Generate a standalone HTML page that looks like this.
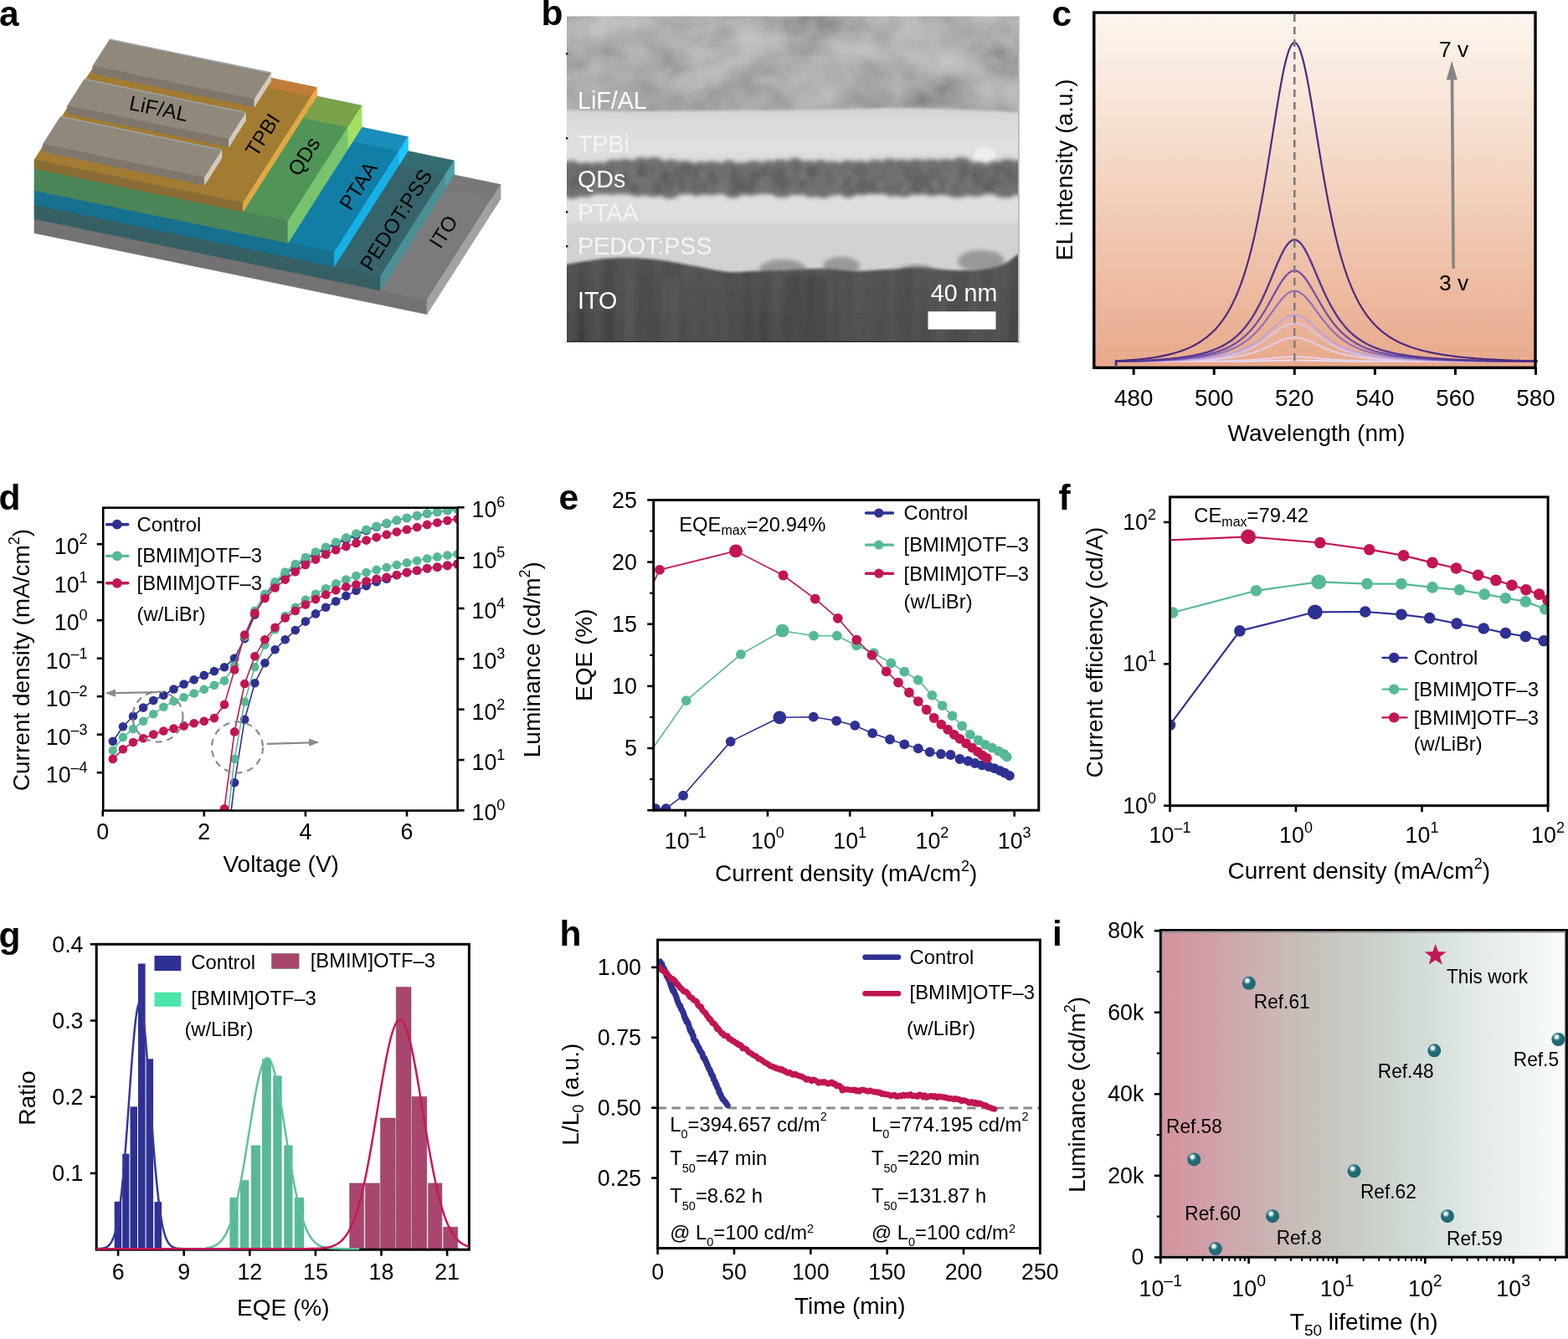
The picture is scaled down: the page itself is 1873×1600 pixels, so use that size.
<!DOCTYPE html>
<html><head><meta charset="utf-8"><title>Figure</title>
<style>
html,body{margin:0;padding:0;background:#fff;}
svg{display:block;}
svg text{font-family:"Liberation Sans", Arial, Helvetica, sans-serif;}
</style></head>
<body>
<svg width="1873" height="1600" viewBox="0 0 1873 1600">
<rect width="1873" height="1600" fill="#fff"/>
<g id="pa">
<polygon points="41,261.4 510,358.58 598,220.58 129,123.4" fill="#7b7b7b" stroke="#7b7b7b" stroke-width="0.7"/>
<polygon points="41,278.4 510,375.58 510,358.58 41,261.4" fill="#727272" stroke="#727272" stroke-width="0.7"/>
<polygon points="510,375.58 598,237.58 598,220.58 510,358.58" fill="#a2a2a2" stroke="#a2a2a2" stroke-width="0.7"/>
<polygon points="118.16,140.4 587.16,237.58 598,220.58 129,123.4" fill="#787878"/>
<polygon points="587.16,254.58 598,237.58 598,220.58 587.16,237.58" fill="#9c9c9c"/>
<polygon points="41,244.4 454.4,330.06 542.4,192.06 129,106.4" fill="#36646a" stroke="#36646a" stroke-width="0.7"/>
<polygon points="41,261.4 454.4,347.06 454.4,330.06 41,244.4" fill="#365f63" stroke="#365f63" stroke-width="0.7"/>
<polygon points="454.4,347.06 542.4,209.06 542.4,192.06 454.4,330.06" fill="#4a8e96" stroke="#4a8e96" stroke-width="0.7"/>
<polygon points="118.16,123.4 531.56,209.06 542.4,192.06 129,106.4" fill="#336d72"/>
<polygon points="531.56,226.06 542.4,209.06 542.4,192.06 531.56,209.06" fill="#50a0a8"/>
<polygon points="41,227.4 399.2,301.62 487.2,163.62 129,89.4" fill="#127ea5" stroke="#127ea5" stroke-width="0.7"/>
<polygon points="41,244.4 399.2,318.62 399.2,301.62 41,227.4" fill="#18708f" stroke="#18708f" stroke-width="0.7"/>
<polygon points="399.2,318.62 487.2,180.62 487.2,163.62 399.2,301.62" fill="#16b0e6" stroke="#16b0e6" stroke-width="0.7"/>
<polygon points="118.16,106.4 476.36,180.62 487.2,163.62 129,89.4" fill="#1a8ebb"/>
<polygon points="476.36,197.62 487.2,180.62 487.2,163.62 476.36,180.62" fill="#22c6ff"/>
<polygon points="41,201.4 344,264.18 432,126.18 129,63.4" fill="#509458" stroke="#509458" stroke-width="0.7"/>
<polygon points="41,227.4 344,290.18 344,264.18 41,201.4" fill="#4b8658" stroke="#4b8658" stroke-width="0.7"/>
<polygon points="344,290.18 432,152.18 432,126.18 344,264.18" fill="#78c46e" stroke="#78c46e" stroke-width="0.7"/>
<polygon points="112.42,89.4 415.42,152.18 432,126.18 129,63.4" fill="#7aa24a"/>
<polygon points="415.42,178.18 432,152.18 432,126.18 415.42,152.18" fill="#a6e062"/>
<polygon points="41,190.9 290.3,242.55 378.3,104.55 129,52.9" fill="#a27c33" stroke="#a27c33" stroke-width="0.7"/>
<polygon points="41,201.4 290.3,253.05 290.3,242.55 41,190.9" fill="#8a6d35" stroke="#8a6d35" stroke-width="0.7"/>
<polygon points="290.3,253.05 378.3,115.05 378.3,104.55 290.3,242.55" fill="#e0a845" stroke="#e0a845" stroke-width="0.7"/>
<polygon points="122.3,63.4 371.6,115.05 378.3,104.55 129,52.9" fill="#c27c3a"/>
<polygon points="371.6,125.55 378.3,115.05 378.3,104.55 371.6,115.05" fill="#f5a64a"/>
<polygon points="110.87,78.83 303.87,118.82 323.76,87.63 130.76,47.64" fill="#8f887b" stroke="#8f887b" stroke-width="0.7"/>
<polygon points="110.87,87.83 303.87,127.82 303.87,118.82 110.87,78.83" fill="#7f776b" stroke="#7f776b" stroke-width="0.7"/>
<polygon points="303.87,127.82 323.76,96.63 323.76,87.63 303.87,118.82" fill="#d2cbbd" stroke="#d2cbbd" stroke-width="0.7"/>
<line x1="130.76" y1="47.04" x2="323.76" y2="87.03" stroke="#9da1a6" stroke-width="1.6"/>
<polygon points="80.51,126.44 273.51,166.43 293.49,135.1 100.49,95.11" fill="#8f887b" stroke="#8f887b" stroke-width="0.7"/>
<polygon points="80.51,135.44 273.51,175.43 273.51,166.43 80.51,126.44" fill="#7f776b" stroke="#7f776b" stroke-width="0.7"/>
<polygon points="273.51,175.43 293.49,144.1 293.49,135.1 273.51,166.43" fill="#d2cbbd" stroke="#d2cbbd" stroke-width="0.7"/>
<line x1="100.49" y1="94.51" x2="293.49" y2="134.5" stroke="#9da1a6" stroke-width="1.6"/>
<polygon points="51.3,172.25 244.3,212.24 264.98,179.81 71.98,139.82" fill="#8f887b" stroke="#8f887b" stroke-width="0.7"/>
<polygon points="51.3,181.25 244.3,221.24 244.3,212.24 51.3,172.25" fill="#7f776b" stroke="#7f776b" stroke-width="0.7"/>
<polygon points="244.3,221.24 264.98,188.81 264.98,179.81 244.3,212.24" fill="#d2cbbd" stroke="#d2cbbd" stroke-width="0.7"/>
<line x1="71.98" y1="139.22" x2="264.98" y2="179.21" stroke="#9da1a6" stroke-width="1.6"/>
<text x="188" y="138" font-size="24.5" text-anchor="middle" transform="rotate(11.7 188 138)">LiF/AL</text>
<text x="0" y="8.82" font-size="24.5" text-anchor="middle" transform="translate(313.4 161) rotate(-57.5)">TPBI</text>
<text x="0" y="8.82" font-size="24.5" text-anchor="middle" transform="translate(362.8 186.6) rotate(-57.5)">QDs</text>
<text x="0" y="8.82" font-size="24.5" text-anchor="middle" transform="translate(427.7 221.8) rotate(-57.5)">PTAA</text>
<text x="0" y="8.82" font-size="24.5" text-anchor="middle" transform="translate(472.8 262.5) rotate(-57.5)">PEDOT:PSS</text>
<text x="0" y="8.82" font-size="24.5" text-anchor="middle" transform="translate(529.4 276.7) rotate(-57.5)">ITO</text>
</g>
<g id="pb">
<defs>
<clipPath id="bclip"><rect x="677" y="19.5" width="539" height="389.5"/></clipPath>
<linearGradient id="blif" x1="0" y1="0" x2="0" y2="1">
<stop offset="0" stop-color="#acacac"/><stop offset="0.45" stop-color="#aaaaaa"/><stop offset="0.8" stop-color="#9e9e9e"/><stop offset="1" stop-color="#949494"/></linearGradient>
<linearGradient id="btpbi" x1="0" y1="0" x2="0" y2="1">
<stop offset="0" stop-color="#d3d3d3"/><stop offset="0.3" stop-color="#dcdcdc"/><stop offset="0.7" stop-color="#e0e0e0"/><stop offset="1" stop-color="#d6d6d6"/></linearGradient>
<linearGradient id="bito" x1="0" y1="0" x2="0" y2="1">
<stop offset="0" stop-color="#4a4a4a"/><stop offset="0.5" stop-color="#444444"/><stop offset="1" stop-color="#414141"/></linearGradient>
<filter id="bnoise" x="0" y="0" width="1" height="1" filterUnits="objectBoundingBox">
<feTurbulence type="fractalNoise" baseFrequency="0.016 0.022" numOctaves="3" seed="11"/>
<feColorMatrix type="matrix" values="1.6 0 0 0 -0.25  1.6 0 0 0 -0.25  1.6 0 0 0 -0.25  0 0 0 0 0.3"/>
<feGaussianBlur stdDeviation="1.6"/>
</filter>
<filter id="bstreak" x="0" y="0" width="1" height="1" filterUnits="objectBoundingBox">
<feTurbulence type="fractalNoise" baseFrequency="0.05 0.004" numOctaves="2" seed="4"/>
<feColorMatrix type="matrix" values="1.2 0 0 0 -0.15  1.2 0 0 0 -0.15  1.2 0 0 0 -0.15  0 0 0 0 0.1"/>
<feGaussianBlur stdDeviation="1"/>
</filter>
<filter id="bblur"><feGaussianBlur stdDeviation="1.6"/></filter>
<filter id="bblur2"><feGaussianBlur stdDeviation="2.5"/></filter>
</defs>
<g clip-path="url(#bclip)">
<rect x="667" y="14.5" width="559" height="125" fill="url(#blif)"/>
<ellipse cx="851.55" cy="36.17" rx="26.27" ry="9.23" fill="#a8a8a8" opacity="0.18" filter="url(#bblur2)"/>
<ellipse cx="727.74" cy="83.9" rx="32.74" ry="11.65" fill="#b0b0b0" opacity="0.18" filter="url(#bblur2)"/>
<ellipse cx="910.74" cy="27.22" rx="12.27" ry="15.22" fill="#a8a8a8" opacity="0.18" filter="url(#bblur2)"/>
<ellipse cx="743.73" cy="44.17" rx="25.69" ry="24.11" fill="#a8a8a8" opacity="0.18" filter="url(#bblur2)"/>
<ellipse cx="992.61" cy="24.98" rx="15.53" ry="17.46" fill="#8a8a8a" opacity="0.18" filter="url(#bblur2)"/>
<ellipse cx="833.1" cy="35.44" rx="12.94" ry="13.24" fill="#8a8a8a" opacity="0.18" filter="url(#bblur2)"/>
<ellipse cx="732.55" cy="82.62" rx="14.7" ry="9.66" fill="#b0b0b0" opacity="0.18" filter="url(#bblur2)"/>
<ellipse cx="981.19" cy="87.9" rx="22.41" ry="17.04" fill="#acacac" opacity="0.18" filter="url(#bblur2)"/>
<ellipse cx="927.96" cy="121.54" rx="19.04" ry="12.22" fill="#8a8a8a" opacity="0.18" filter="url(#bblur2)"/>
<ellipse cx="1053.76" cy="46.47" rx="24.36" ry="16.93" fill="#acacac" opacity="0.18" filter="url(#bblur2)"/>
<ellipse cx="1070.17" cy="51.32" rx="34.5" ry="10.01" fill="#929292" opacity="0.18" filter="url(#bblur2)"/>
<ellipse cx="765.91" cy="57.3" rx="33.33" ry="15.17" fill="#b0b0b0" opacity="0.18" filter="url(#bblur2)"/>
<ellipse cx="1089.1" cy="82.82" rx="31.89" ry="13.33" fill="#acacac" opacity="0.18" filter="url(#bblur2)"/>
<ellipse cx="997.37" cy="83.58" rx="21.41" ry="22.28" fill="#acacac" opacity="0.18" filter="url(#bblur2)"/>
<ellipse cx="932.54" cy="92.89" rx="11.52" ry="19.93" fill="#a8a8a8" opacity="0.18" filter="url(#bblur2)"/>
<ellipse cx="1212.28" cy="110.32" rx="17.11" ry="14.56" fill="#acacac" opacity="0.18" filter="url(#bblur2)"/>
<ellipse cx="689.16" cy="70.52" rx="14.2" ry="9.99" fill="#b0b0b0" opacity="0.18" filter="url(#bblur2)"/>
<ellipse cx="794.61" cy="51.26" rx="28.46" ry="14.76" fill="#929292" opacity="0.18" filter="url(#bblur2)"/>
<ellipse cx="720.43" cy="69.14" rx="23.74" ry="23.02" fill="#929292" opacity="0.18" filter="url(#bblur2)"/>
<ellipse cx="1142.69" cy="50.27" rx="20.38" ry="14.1" fill="#929292" opacity="0.18" filter="url(#bblur2)"/>
<ellipse cx="1193.22" cy="36.18" rx="14.41" ry="11.94" fill="#8a8a8a" opacity="0.18" filter="url(#bblur2)"/>
<ellipse cx="683.5" cy="111.34" rx="14.56" ry="12.79" fill="#8a8a8a" opacity="0.18" filter="url(#bblur2)"/>
<ellipse cx="902.81" cy="60.3" rx="24.16" ry="24.2" fill="#a8a8a8" opacity="0.18" filter="url(#bblur2)"/>
<ellipse cx="1189.17" cy="91.87" rx="28.49" ry="15.76" fill="#a8a8a8" opacity="0.18" filter="url(#bblur2)"/>
<ellipse cx="888.49" cy="63.59" rx="12.59" ry="18.78" fill="#b0b0b0" opacity="0.18" filter="url(#bblur2)"/>
<ellipse cx="779.74" cy="128.31" rx="21.02" ry="9.87" fill="#a8a8a8" opacity="0.18" filter="url(#bblur2)"/>
<ellipse cx="705.34" cy="19.53" rx="13.78" ry="9.72" fill="#acacac" opacity="0.18" filter="url(#bblur2)"/>
<ellipse cx="1007.8" cy="27.27" rx="15.2" ry="14.4" fill="#acacac" opacity="0.18" filter="url(#bblur2)"/>
<ellipse cx="1192" cy="86.05" rx="21.85" ry="9.96" fill="#929292" opacity="0.18" filter="url(#bblur2)"/>
<ellipse cx="1212.28" cy="70.99" rx="22.1" ry="9.46" fill="#b0b0b0" opacity="0.18" filter="url(#bblur2)"/>
<ellipse cx="1081.07" cy="101.31" rx="21.97" ry="19.76" fill="#a8a8a8" opacity="0.18" filter="url(#bblur2)"/>
<ellipse cx="689.45" cy="124.58" rx="23.21" ry="10.49" fill="#a8a8a8" opacity="0.18" filter="url(#bblur2)"/>
<ellipse cx="1169.72" cy="103.27" rx="17.45" ry="18.93" fill="#b0b0b0" opacity="0.18" filter="url(#bblur2)"/>
<ellipse cx="1052.25" cy="48.35" rx="19.17" ry="10.84" fill="#8a8a8a" opacity="0.18" filter="url(#bblur2)"/>
<ellipse cx="964.07" cy="105.59" rx="18.24" ry="11.79" fill="#8a8a8a" opacity="0.18" filter="url(#bblur2)"/>
<ellipse cx="1111.48" cy="109.93" rx="28.5" ry="11.85" fill="#a8a8a8" opacity="0.18" filter="url(#bblur2)"/>
<ellipse cx="942.61" cy="100.28" rx="34.74" ry="21.43" fill="#929292" opacity="0.18" filter="url(#bblur2)"/>
<ellipse cx="816.69" cy="96.02" rx="33.91" ry="15.6" fill="#acacac" opacity="0.18" filter="url(#bblur2)"/>
<ellipse cx="1191.75" cy="59.79" rx="15.51" ry="11.86" fill="#8a8a8a" opacity="0.18" filter="url(#bblur2)"/>
<ellipse cx="859.04" cy="72.83" rx="34.63" ry="18.37" fill="#b0b0b0" opacity="0.18" filter="url(#bblur2)"/>
<ellipse cx="935.44" cy="91.65" rx="29.99" ry="9.44" fill="#b0b0b0" opacity="0.18" filter="url(#bblur2)"/>
<ellipse cx="1167.37" cy="105.94" rx="28.75" ry="16.13" fill="#8a8a8a" opacity="0.18" filter="url(#bblur2)"/>
<ellipse cx="910.89" cy="89.76" rx="12.17" ry="24.08" fill="#929292" opacity="0.18" filter="url(#bblur2)"/>
<ellipse cx="926.64" cy="101.64" rx="12.12" ry="10.7" fill="#8a8a8a" opacity="0.18" filter="url(#bblur2)"/>
<ellipse cx="691.85" cy="84.78" rx="21.63" ry="19.15" fill="#a8a8a8" opacity="0.18" filter="url(#bblur2)"/>
<ellipse cx="1122.49" cy="127.82" rx="26.43" ry="13.96" fill="#a8a8a8" opacity="0.18" filter="url(#bblur2)"/>
<ellipse cx="972.53" cy="21.86" rx="29.98" ry="20.35" fill="#b0b0b0" opacity="0.18" filter="url(#bblur2)"/>
<ellipse cx="960.83" cy="122.67" rx="20.85" ry="22.82" fill="#8a8a8a" opacity="0.18" filter="url(#bblur2)"/>
<ellipse cx="692.09" cy="43.01" rx="22.53" ry="20.98" fill="#acacac" opacity="0.18" filter="url(#bblur2)"/>
<ellipse cx="816.8" cy="65.8" rx="13.28" ry="23.47" fill="#acacac" opacity="0.18" filter="url(#bblur2)"/>
<ellipse cx="1160.86" cy="92.7" rx="30.38" ry="16.78" fill="#a8a8a8" opacity="0.18" filter="url(#bblur2)"/>
<ellipse cx="747.48" cy="36.28" rx="22.76" ry="22.84" fill="#8a8a8a" opacity="0.18" filter="url(#bblur2)"/>
<ellipse cx="1005.01" cy="105.25" rx="13.75" ry="10.41" fill="#a8a8a8" opacity="0.18" filter="url(#bblur2)"/>
<ellipse cx="1067.88" cy="80.99" rx="18.15" ry="16.81" fill="#a8a8a8" opacity="0.18" filter="url(#bblur2)"/>
<ellipse cx="937.06" cy="105.3" rx="32.08" ry="8.97" fill="#8a8a8a" opacity="0.18" filter="url(#bblur2)"/>
<ellipse cx="826.26" cy="104.83" rx="22.69" ry="17.55" fill="#b0b0b0" opacity="0.18" filter="url(#bblur2)"/>
<ellipse cx="915.91" cy="87.18" rx="22.64" ry="16.71" fill="#acacac" opacity="0.18" filter="url(#bblur2)"/>
<ellipse cx="920.81" cy="78.43" rx="21.95" ry="24.01" fill="#a8a8a8" opacity="0.18" filter="url(#bblur2)"/>
<ellipse cx="1149.45" cy="123.61" rx="16.49" ry="17.51" fill="#8a8a8a" opacity="0.18" filter="url(#bblur2)"/>
<ellipse cx="1129.76" cy="34.65" rx="13.04" ry="15.52" fill="#b0b0b0" opacity="0.18" filter="url(#bblur2)"/>
<ellipse cx="1038.75" cy="66.83" rx="15.32" ry="13.15" fill="#b0b0b0" opacity="0.18" filter="url(#bblur2)"/>
<ellipse cx="1160.5" cy="36.57" rx="27.9" ry="19.22" fill="#8a8a8a" opacity="0.18" filter="url(#bblur2)"/>
<ellipse cx="813.43" cy="34.67" rx="21.69" ry="20.69" fill="#b0b0b0" opacity="0.18" filter="url(#bblur2)"/>
<ellipse cx="891.66" cy="73.34" rx="34.75" ry="22.15" fill="#8a8a8a" opacity="0.18" filter="url(#bblur2)"/>
<ellipse cx="1057.71" cy="129.35" rx="20.1" ry="15.16" fill="#acacac" opacity="0.18" filter="url(#bblur2)"/>
<ellipse cx="848.69" cy="99.3" rx="10.49" ry="17.42" fill="#929292" opacity="0.18" filter="url(#bblur2)"/>
<ellipse cx="1056" cy="61.97" rx="22.94" ry="13.02" fill="#b0b0b0" opacity="0.18" filter="url(#bblur2)"/>
<ellipse cx="737.83" cy="121" rx="15.71" ry="22.9" fill="#b0b0b0" opacity="0.18" filter="url(#bblur2)"/>
<ellipse cx="820.14" cy="23.87" rx="29.47" ry="12.6" fill="#8a8a8a" opacity="0.18" filter="url(#bblur2)"/>
<ellipse cx="1118.86" cy="113.38" rx="26.9" ry="24.08" fill="#929292" opacity="0.18" filter="url(#bblur2)"/>
<ellipse cx="1045" cy="100" rx="22" ry="30" fill="#858585" opacity="0.25" filter="url(#bblur2)"/>
<rect x="667" y="14.5" width="559" height="125" fill="#888" filter="url(#bnoise)"/>
<path d="M665,131 C667,131 661.17,130.67 677,131 C692.83,131.33 731.17,132.83 760,133 C788.83,133.17 818.33,132.25 850,132 C881.67,131.75 921.67,131.83 950,131.5 C978.33,131.17 998.33,130.42 1020,130 C1041.67,129.58 1058.33,128.83 1080,129 C1101.67,129.17 1127.33,130.17 1150,131 C1172.67,131.83 1202.67,133.5 1216,134 C1229.33,134.5 1227.67,134 1230,134 L1230,200 L665,200 Z" fill="url(#btpbi)" filter="url(#bblur)"/>
<ellipse cx="1176" cy="185" rx="13" ry="10" fill="#eeeeee" filter="url(#bblur)"/>
<rect x="667" y="226" width="559" height="44" fill="#dedede" filter="url(#bblur2)"/>
<rect x="667" y="266" width="559" height="70" fill="#d2d2d2" filter="url(#bblur2)"/>
<g filter="url(#bblur2)">
<rect x="665" y="197" width="563" height="35" fill="#727272"/>
<ellipse cx="667" cy="200.6" rx="9.75" ry="7.71" fill="#707070"/>
<ellipse cx="662.89" cy="230.8" rx="9.75" ry="3.17" fill="#717171"/>
<ellipse cx="681.62" cy="198.13" rx="12.44" ry="6.22" fill="#707070"/>
<ellipse cx="682.96" cy="231.75" rx="12.44" ry="5.4" fill="#717171"/>
<ellipse cx="700.28" cy="200.28" rx="9.42" ry="6.2" fill="#707070"/>
<ellipse cx="699.82" cy="231.45" rx="9.42" ry="4.02" fill="#717171"/>
<ellipse cx="714.41" cy="200.63" rx="11.77" ry="6.8" fill="#707070"/>
<ellipse cx="714.68" cy="228.52" rx="11.77" ry="3.72" fill="#717171"/>
<ellipse cx="732.06" cy="196.81" rx="9.55" ry="6.15" fill="#707070"/>
<ellipse cx="730.18" cy="228.81" rx="9.55" ry="3.92" fill="#717171"/>
<ellipse cx="746.38" cy="197.45" rx="12.8" ry="7.5" fill="#707070"/>
<ellipse cx="744.85" cy="228.71" rx="12.8" ry="3.05" fill="#717171"/>
<ellipse cx="765.57" cy="196.08" rx="10.25" ry="8.2" fill="#707070"/>
<ellipse cx="762.47" cy="230.2" rx="10.25" ry="4.42" fill="#717171"/>
<ellipse cx="780.95" cy="196.53" rx="13.67" ry="8.46" fill="#707070"/>
<ellipse cx="780.9" cy="229.73" rx="13.67" ry="5.5" fill="#717171"/>
<ellipse cx="801.46" cy="198.53" rx="10.97" ry="8.06" fill="#707070"/>
<ellipse cx="799.89" cy="231.93" rx="10.97" ry="5.5" fill="#717171"/>
<ellipse cx="817.91" cy="199.18" rx="12.53" ry="7.21" fill="#707070"/>
<ellipse cx="813.46" cy="229.39" rx="12.53" ry="3.39" fill="#717171"/>
<ellipse cx="836.71" cy="199.7" rx="9.35" ry="6.77" fill="#707070"/>
<ellipse cx="832.56" cy="228.65" rx="9.35" ry="5.52" fill="#717171"/>
<ellipse cx="850.74" cy="199.35" rx="13.35" ry="6.85" fill="#707070"/>
<ellipse cx="848.67" cy="228.97" rx="13.35" ry="4.38" fill="#717171"/>
<ellipse cx="870.77" cy="198.23" rx="9.79" ry="6.79" fill="#707070"/>
<ellipse cx="875.5" cy="231.85" rx="9.79" ry="4.64" fill="#717171"/>
<ellipse cx="885.45" cy="200.83" rx="10.22" ry="6.93" fill="#707070"/>
<ellipse cx="880.46" cy="229.43" rx="10.22" ry="4.14" fill="#717171"/>
<ellipse cx="900.79" cy="198.51" rx="11.37" ry="6.6" fill="#707070"/>
<ellipse cx="895.84" cy="230.02" rx="11.37" ry="3.79" fill="#717171"/>
<ellipse cx="917.85" cy="198" rx="9.45" ry="6.13" fill="#707070"/>
<ellipse cx="915.89" cy="228.09" rx="9.45" ry="3.7" fill="#717171"/>
<ellipse cx="932.02" cy="198.65" rx="11.93" ry="8.25" fill="#707070"/>
<ellipse cx="934.18" cy="230.63" rx="11.93" ry="5.64" fill="#717171"/>
<ellipse cx="949.91" cy="197.63" rx="10.95" ry="8.95" fill="#707070"/>
<ellipse cx="952.15" cy="228.6" rx="10.95" ry="4.93" fill="#717171"/>
<ellipse cx="966.33" cy="200.18" rx="9.22" ry="8.68" fill="#707070"/>
<ellipse cx="968.67" cy="230.51" rx="9.22" ry="5.44" fill="#717171"/>
<ellipse cx="980.16" cy="198.62" rx="9.7" ry="7.51" fill="#707070"/>
<ellipse cx="983.21" cy="231.34" rx="9.7" ry="5.48" fill="#717171"/>
<ellipse cx="994.71" cy="200.46" rx="11.92" ry="8.05" fill="#707070"/>
<ellipse cx="992" cy="230.77" rx="11.92" ry="3.09" fill="#717171"/>
<ellipse cx="1012.59" cy="197.8" rx="9.67" ry="6.31" fill="#707070"/>
<ellipse cx="1013.17" cy="231.34" rx="9.67" ry="4.88" fill="#717171"/>
<ellipse cx="1027.08" cy="199.4" rx="12.13" ry="7.47" fill="#707070"/>
<ellipse cx="1030.06" cy="228.01" rx="12.13" ry="5.24" fill="#717171"/>
<ellipse cx="1045.28" cy="198.68" rx="11.51" ry="7.98" fill="#707070"/>
<ellipse cx="1047.65" cy="228.26" rx="11.51" ry="3.76" fill="#717171"/>
<ellipse cx="1062.55" cy="197.33" rx="9.37" ry="8.19" fill="#707070"/>
<ellipse cx="1064.95" cy="228.82" rx="9.37" ry="5.93" fill="#717171"/>
<ellipse cx="1076.61" cy="197.91" rx="11.47" ry="7.44" fill="#707070"/>
<ellipse cx="1079.28" cy="230.73" rx="11.47" ry="4.85" fill="#717171"/>
<ellipse cx="1093.82" cy="196.39" rx="12.21" ry="6.44" fill="#707070"/>
<ellipse cx="1096.25" cy="229.02" rx="12.21" ry="3.91" fill="#717171"/>
<ellipse cx="1112.14" cy="196.06" rx="11.84" ry="6.18" fill="#707070"/>
<ellipse cx="1113.86" cy="229.08" rx="11.84" ry="5.08" fill="#717171"/>
<ellipse cx="1129.9" cy="197.45" rx="12.38" ry="7.55" fill="#707070"/>
<ellipse cx="1129.56" cy="229.86" rx="12.38" ry="3.36" fill="#717171"/>
<ellipse cx="1148.46" cy="197" rx="13.47" ry="8.93" fill="#707070"/>
<ellipse cx="1143.64" cy="231.75" rx="13.47" ry="4.38" fill="#717171"/>
<ellipse cx="1168.67" cy="200.84" rx="13.1" ry="7.35" fill="#707070"/>
<ellipse cx="1165.76" cy="229.07" rx="13.1" ry="5.84" fill="#717171"/>
<ellipse cx="1188.31" cy="198.91" rx="10.05" ry="6.43" fill="#707070"/>
<ellipse cx="1192.84" cy="230.1" rx="10.05" ry="3.4" fill="#717171"/>
<ellipse cx="1203.39" cy="198.54" rx="13.1" ry="8.66" fill="#707070"/>
<ellipse cx="1200.71" cy="230.81" rx="13.1" ry="5.69" fill="#717171"/>
<ellipse cx="1223.05" cy="196.12" rx="11.43" ry="6.01" fill="#707070"/>
<ellipse cx="1222.55" cy="229.97" rx="11.43" ry="3.91" fill="#717171"/>
<ellipse cx="749.25" cy="211.26" rx="4.48" ry="6.33" fill="#666666" opacity="0.7"/>
<ellipse cx="850.18" cy="211.12" rx="4.48" ry="8.71" fill="#5a5a5a" opacity="0.7"/>
<ellipse cx="1063.45" cy="224.64" rx="5.01" ry="5.26" fill="#666666" opacity="0.7"/>
<ellipse cx="886.2" cy="223.88" rx="5.44" ry="6.71" fill="#5e5e5e" opacity="0.7"/>
<ellipse cx="823.06" cy="204.16" rx="4.21" ry="7.65" fill="#5e5e5e" opacity="0.7"/>
<ellipse cx="1020.59" cy="206.57" rx="5.74" ry="6.26" fill="#666666" opacity="0.7"/>
<ellipse cx="1096.48" cy="221.84" rx="7.54" ry="8.25" fill="#5a5a5a" opacity="0.7"/>
<ellipse cx="1018.36" cy="224.92" rx="6.2" ry="7.88" fill="#6a6a6a" opacity="0.7"/>
<ellipse cx="699.16" cy="220.58" rx="6.46" ry="5.55" fill="#5a5a5a" opacity="0.7"/>
<ellipse cx="1149.34" cy="214.65" rx="4.51" ry="6.89" fill="#6a6a6a" opacity="0.7"/>
<ellipse cx="860.67" cy="210.15" rx="5.62" ry="5.95" fill="#666666" opacity="0.7"/>
<ellipse cx="937.27" cy="219.05" rx="4.67" ry="5.65" fill="#5e5e5e" opacity="0.7"/>
<ellipse cx="786.12" cy="224.74" rx="6.2" ry="6.81" fill="#5a5a5a" opacity="0.7"/>
<ellipse cx="854.73" cy="221.22" rx="4.56" ry="5.77" fill="#5a5a5a" opacity="0.7"/>
<ellipse cx="721.8" cy="211.21" rx="5.28" ry="6.47" fill="#5e5e5e" opacity="0.7"/>
<ellipse cx="1116.34" cy="207.85" rx="7" ry="6.65" fill="#5e5e5e" opacity="0.7"/>
<ellipse cx="899.22" cy="215.58" rx="5.08" ry="8.01" fill="#5a5a5a" opacity="0.7"/>
<ellipse cx="945.48" cy="216.78" rx="4.5" ry="7.01" fill="#666666" opacity="0.7"/>
<ellipse cx="1017.67" cy="223.71" rx="4.37" ry="8.59" fill="#626262" opacity="0.7"/>
<ellipse cx="883.12" cy="218.5" rx="7.82" ry="8.39" fill="#5a5a5a" opacity="0.7"/>
<ellipse cx="1151.22" cy="203.52" rx="5.7" ry="8.05" fill="#5e5e5e" opacity="0.7"/>
<ellipse cx="1113.53" cy="226.24" rx="4" ry="6.57" fill="#5a5a5a" opacity="0.7"/>
<ellipse cx="1180.83" cy="222.81" rx="7.89" ry="5.99" fill="#5a5a5a" opacity="0.7"/>
<ellipse cx="731.87" cy="206.71" rx="7.89" ry="5.44" fill="#6a6a6a" opacity="0.7"/>
<ellipse cx="1125.14" cy="219.82" rx="4.34" ry="8.11" fill="#5a5a5a" opacity="0.7"/>
<ellipse cx="672.75" cy="206.02" rx="7.68" ry="7.58" fill="#6a6a6a" opacity="0.7"/>
<ellipse cx="838.78" cy="206.07" rx="6.11" ry="6.75" fill="#666666" opacity="0.7"/>
<ellipse cx="1091.35" cy="205.39" rx="6.1" ry="7.33" fill="#666666" opacity="0.7"/>
<ellipse cx="885.06" cy="208.37" rx="4" ry="7.15" fill="#6a6a6a" opacity="0.7"/>
<ellipse cx="1219.01" cy="209.69" rx="6.58" ry="8.54" fill="#666666" opacity="0.7"/>
<ellipse cx="932.94" cy="208.63" rx="4.12" ry="6.65" fill="#626262" opacity="0.7"/>
<ellipse cx="1028.66" cy="204.33" rx="5.99" ry="7.7" fill="#626262" opacity="0.7"/>
<ellipse cx="902.59" cy="209.17" rx="7.7" ry="5.91" fill="#5a5a5a" opacity="0.7"/>
<ellipse cx="690.72" cy="211.11" rx="5.45" ry="6.59" fill="#5a5a5a" opacity="0.7"/>
<ellipse cx="675.71" cy="210.01" rx="4.27" ry="6.98" fill="#6a6a6a" opacity="0.7"/>
<ellipse cx="782.03" cy="221.38" rx="4.92" ry="5.89" fill="#626262" opacity="0.7"/>
<ellipse cx="1089.5" cy="210.08" rx="5.98" ry="5.75" fill="#6a6a6a" opacity="0.7"/>
<ellipse cx="794.6" cy="213.01" rx="7.8" ry="5.59" fill="#5e5e5e" opacity="0.7"/>
<ellipse cx="888.01" cy="208.11" rx="4.57" ry="5.21" fill="#6a6a6a" opacity="0.7"/>
<ellipse cx="705.01" cy="212.44" rx="6.93" ry="8.99" fill="#666666" opacity="0.7"/>
<ellipse cx="1183.45" cy="210.9" rx="6.61" ry="7.1" fill="#626262" opacity="0.7"/>
<ellipse cx="928.72" cy="210.48" rx="7.36" ry="8.94" fill="#5a5a5a" opacity="0.7"/>
<ellipse cx="914.9" cy="205.61" rx="5.12" ry="6.41" fill="#5e5e5e" opacity="0.7"/>
<ellipse cx="1196.58" cy="205.97" rx="5.52" ry="8.07" fill="#626262" opacity="0.7"/>
<ellipse cx="841.48" cy="222.29" rx="4.2" ry="6.89" fill="#5e5e5e" opacity="0.7"/>
<ellipse cx="876.62" cy="225.07" rx="5.29" ry="7.95" fill="#626262" opacity="0.7"/>
<ellipse cx="932.52" cy="218.16" rx="7.25" ry="8.07" fill="#626262" opacity="0.7"/>
<ellipse cx="694.32" cy="203.84" rx="7.21" ry="5.25" fill="#5e5e5e" opacity="0.7"/>
<ellipse cx="779.02" cy="204.51" rx="5.36" ry="6.09" fill="#6a6a6a" opacity="0.7"/>
<ellipse cx="1197.77" cy="217.81" rx="6.99" ry="7.76" fill="#666666" opacity="0.7"/>
<ellipse cx="1179.4" cy="210.14" rx="7.67" ry="7.54" fill="#6a6a6a" opacity="0.7"/>
<ellipse cx="1189.84" cy="203.58" rx="4.43" ry="7.86" fill="#626262" opacity="0.7"/>
<ellipse cx="927.69" cy="221.63" rx="7.65" ry="8.26" fill="#666666" opacity="0.7"/>
<ellipse cx="744.86" cy="214.92" rx="7.21" ry="7.95" fill="#5e5e5e" opacity="0.7"/>
<ellipse cx="1123.69" cy="221.55" rx="4.94" ry="8.44" fill="#6a6a6a" opacity="0.7"/>
<ellipse cx="924.97" cy="221.81" rx="4.32" ry="5.79" fill="#6a6a6a" opacity="0.7"/>
<ellipse cx="1085.33" cy="208.94" rx="6.6" ry="6.93" fill="#5e5e5e" opacity="0.7"/>
<ellipse cx="970.99" cy="206.86" rx="7.53" ry="8.95" fill="#5a5a5a" opacity="0.7"/>
<ellipse cx="817.43" cy="205.02" rx="5.68" ry="8.95" fill="#5e5e5e" opacity="0.7"/>
<ellipse cx="1205.69" cy="207.16" rx="5.67" ry="7.48" fill="#626262" opacity="0.7"/>
<ellipse cx="1042.09" cy="220.95" rx="7.12" ry="6.18" fill="#5e5e5e" opacity="0.7"/>
<ellipse cx="825.39" cy="209.42" rx="6.95" ry="5.8" fill="#666666" opacity="0.7"/>
<ellipse cx="807.84" cy="208.89" rx="5.13" ry="8.63" fill="#626262" opacity="0.7"/>
<ellipse cx="775.35" cy="204.56" rx="7.97" ry="7.03" fill="#666666" opacity="0.7"/>
<ellipse cx="799.03" cy="222.4" rx="7.96" ry="5.41" fill="#5a5a5a" opacity="0.7"/>
<ellipse cx="932.64" cy="222.66" rx="7.66" ry="5.16" fill="#5a5a5a" opacity="0.7"/>
<ellipse cx="833.23" cy="205.86" rx="6.4" ry="8.31" fill="#626262" opacity="0.7"/>
<ellipse cx="778.59" cy="204.8" rx="7.46" ry="6.8" fill="#6a6a6a" opacity="0.7"/>
<ellipse cx="814.71" cy="221.67" rx="4.42" ry="7.38" fill="#5e5e5e" opacity="0.7"/>
<ellipse cx="1012.35" cy="208.22" rx="5.36" ry="5.18" fill="#666666" opacity="0.7"/>
<ellipse cx="1220.93" cy="203.92" rx="7.26" ry="8.28" fill="#626262" opacity="0.7"/>
<ellipse cx="896.54" cy="211.92" rx="5.25" ry="5.81" fill="#6a6a6a" opacity="0.7"/>
<ellipse cx="1108.61" cy="216.15" rx="5.63" ry="8.18" fill="#5e5e5e" opacity="0.7"/>
<ellipse cx="1036.55" cy="206.71" rx="4.36" ry="5.65" fill="#6a6a6a" opacity="0.7"/>
<ellipse cx="1053.78" cy="212.83" rx="6.67" ry="6.67" fill="#666666" opacity="0.7"/>
<ellipse cx="700.2" cy="220.89" rx="5.66" ry="5.07" fill="#666666" opacity="0.7"/>
<ellipse cx="1092.9" cy="222.25" rx="5.56" ry="6.62" fill="#626262" opacity="0.7"/>
<ellipse cx="1189.15" cy="213.42" rx="5.7" ry="8.28" fill="#626262" opacity="0.7"/>
<ellipse cx="895.01" cy="224.19" rx="7.09" ry="5.52" fill="#5a5a5a" opacity="0.7"/>
<ellipse cx="700.38" cy="206.42" rx="4.36" ry="7.49" fill="#5a5a5a" opacity="0.7"/>
<ellipse cx="875.59" cy="215.11" rx="5.39" ry="5.65" fill="#626262" opacity="0.7"/>
<ellipse cx="766.31" cy="204.61" rx="5.96" ry="8.22" fill="#5a5a5a" opacity="0.7"/>
<ellipse cx="1202.81" cy="207.74" rx="7.35" ry="5.17" fill="#626262" opacity="0.7"/>
<ellipse cx="1173.13" cy="210.55" rx="7.7" ry="6.55" fill="#6a6a6a" opacity="0.7"/>
<ellipse cx="1168.42" cy="217.89" rx="6.56" ry="8.43" fill="#626262" opacity="0.7"/>
<ellipse cx="1012.96" cy="217.75" rx="7.32" ry="5.73" fill="#626262" opacity="0.7"/>
<ellipse cx="791.76" cy="212.59" rx="4.63" ry="6.44" fill="#6a6a6a" opacity="0.7"/>
<ellipse cx="754.06" cy="226.3" rx="4.16" ry="7.25" fill="#626262" opacity="0.7"/>
<ellipse cx="1087.85" cy="203.92" rx="4.47" ry="7.4" fill="#666666" opacity="0.7"/>
<ellipse cx="973.98" cy="218.05" rx="6.6" ry="6.23" fill="#666666" opacity="0.7"/>
<ellipse cx="808.84" cy="212.34" rx="5.79" ry="6.75" fill="#666666" opacity="0.7"/>
<ellipse cx="684.83" cy="217.85" rx="5.86" ry="6.79" fill="#5a5a5a" opacity="0.7"/>
<ellipse cx="1011.6" cy="222.66" rx="7.24" ry="6.6" fill="#626262" opacity="0.7"/>
<ellipse cx="708.85" cy="211.61" rx="4.37" ry="6.77" fill="#666666" opacity="0.7"/>
<ellipse cx="952.08" cy="203.98" rx="4.33" ry="7.93" fill="#626262" opacity="0.7"/>
<ellipse cx="1098.92" cy="215.28" rx="7.01" ry="8.58" fill="#5e5e5e" opacity="0.7"/>
<ellipse cx="1030.36" cy="221.82" rx="7.43" ry="8.98" fill="#5e5e5e" opacity="0.7"/>
<ellipse cx="1073.91" cy="222.56" rx="4.53" ry="8.54" fill="#626262" opacity="0.7"/>
<ellipse cx="830.05" cy="222.46" rx="6.74" ry="7.88" fill="#626262" opacity="0.7"/>
<ellipse cx="793.4" cy="222.99" rx="7.02" ry="5.64" fill="#6a6a6a" opacity="0.7"/>
<ellipse cx="1164.2" cy="209.6" rx="4.57" ry="7.01" fill="#5a5a5a" opacity="0.7"/>
<ellipse cx="1177.03" cy="208" rx="6.46" ry="5.95" fill="#666666" opacity="0.7"/>
<ellipse cx="876.37" cy="207.77" rx="4.64" ry="8.75" fill="#5a5a5a" opacity="0.7"/>
<ellipse cx="1045.14" cy="224.49" rx="7.17" ry="6.06" fill="#626262" opacity="0.7"/>
<ellipse cx="1093.78" cy="204.17" rx="7.86" ry="6.81" fill="#666666" opacity="0.7"/>
<ellipse cx="958.28" cy="219.53" rx="5.01" ry="7.14" fill="#5e5e5e" opacity="0.7"/>
<ellipse cx="1142.27" cy="220.71" rx="5.06" ry="8.96" fill="#666666" opacity="0.7"/>
<ellipse cx="988.97" cy="211.65" rx="5.77" ry="5.71" fill="#5e5e5e" opacity="0.7"/>
<ellipse cx="1080.23" cy="204.16" rx="5.01" ry="7.56" fill="#6a6a6a" opacity="0.7"/>
<ellipse cx="1212.25" cy="217.06" rx="6.93" ry="7.99" fill="#666666" opacity="0.7"/>
<ellipse cx="793.68" cy="209.98" rx="5.67" ry="6.46" fill="#5a5a5a" opacity="0.7"/>
<ellipse cx="698.23" cy="214.72" rx="6.61" ry="5.09" fill="#6a6a6a" opacity="0.7"/>
<ellipse cx="673.44" cy="211.52" rx="6.09" ry="7.14" fill="#5e5e5e" opacity="0.7"/>
<ellipse cx="898.87" cy="210.23" rx="4.82" ry="7.5" fill="#626262" opacity="0.7"/>
<ellipse cx="932.72" cy="206.23" rx="6.83" ry="6.8" fill="#626262" opacity="0.7"/>
<ellipse cx="706.95" cy="206.47" rx="5.61" ry="6.06" fill="#666666" opacity="0.7"/>
<ellipse cx="678.31" cy="218.48" rx="7.57" ry="7.38" fill="#6a6a6a" opacity="0.7"/>
<ellipse cx="989.58" cy="217.45" rx="6.93" ry="5.99" fill="#6a6a6a" opacity="0.7"/>
<ellipse cx="1168.02" cy="204.06" rx="4.1" ry="5.74" fill="#6a6a6a" opacity="0.7"/>
<ellipse cx="759.41" cy="224.88" rx="4.05" ry="7.2" fill="#5e5e5e" opacity="0.7"/>
<circle cx="1184.16" cy="208.27" r="1.9" fill="#8c8c8c" opacity="0.55"/>
<circle cx="1004.76" cy="216.66" r="2.78" fill="#8c8c8c" opacity="0.55"/>
<circle cx="1115.41" cy="209.02" r="2.12" fill="#8c8c8c" opacity="0.55"/>
<circle cx="838.84" cy="206.12" r="3.28" fill="#8c8c8c" opacity="0.55"/>
<circle cx="1099.02" cy="221.45" r="1.51" fill="#8c8c8c" opacity="0.55"/>
<circle cx="1132.15" cy="222.14" r="2.43" fill="#8c8c8c" opacity="0.55"/>
<circle cx="1076.81" cy="215.41" r="1.95" fill="#8c8c8c" opacity="0.55"/>
<circle cx="733.75" cy="210.34" r="1.58" fill="#8c8c8c" opacity="0.55"/>
<circle cx="857.84" cy="222.24" r="2.89" fill="#8c8c8c" opacity="0.55"/>
<circle cx="1132.63" cy="221.37" r="2.03" fill="#8c8c8c" opacity="0.55"/>
<circle cx="975.49" cy="215.03" r="3.08" fill="#8c8c8c" opacity="0.55"/>
<circle cx="959.03" cy="211.1" r="2.78" fill="#8c8c8c" opacity="0.55"/>
<circle cx="1197.21" cy="209.99" r="3.26" fill="#8c8c8c" opacity="0.55"/>
<circle cx="685.21" cy="210.99" r="1.97" fill="#8c8c8c" opacity="0.55"/>
<circle cx="1077.95" cy="226.73" r="2.99" fill="#8c8c8c" opacity="0.55"/>
<circle cx="853.18" cy="225.24" r="2.16" fill="#8c8c8c" opacity="0.55"/>
<circle cx="805.91" cy="225.87" r="2.76" fill="#8c8c8c" opacity="0.55"/>
<circle cx="1050.44" cy="220.3" r="3.46" fill="#8c8c8c" opacity="0.55"/>
<circle cx="930.06" cy="224.31" r="2.9" fill="#8c8c8c" opacity="0.55"/>
<circle cx="1139.2" cy="215.06" r="2.95" fill="#8c8c8c" opacity="0.55"/>
<circle cx="984.41" cy="212.08" r="1.92" fill="#8c8c8c" opacity="0.55"/>
<circle cx="1012.59" cy="206.79" r="3.32" fill="#8c8c8c" opacity="0.55"/>
<circle cx="754.94" cy="205.62" r="1.71" fill="#8c8c8c" opacity="0.55"/>
<circle cx="1177.7" cy="212.93" r="1.78" fill="#8c8c8c" opacity="0.55"/>
<circle cx="692.49" cy="205.96" r="2.89" fill="#8c8c8c" opacity="0.55"/>
<circle cx="1018.66" cy="221.03" r="2.97" fill="#8c8c8c" opacity="0.55"/>
<circle cx="712.45" cy="218.58" r="2.23" fill="#8c8c8c" opacity="0.55"/>
<circle cx="1117.67" cy="223.85" r="3.28" fill="#8c8c8c" opacity="0.55"/>
<circle cx="712.55" cy="224.96" r="3.33" fill="#8c8c8c" opacity="0.55"/>
<circle cx="1185.99" cy="207.46" r="1.91" fill="#8c8c8c" opacity="0.55"/>
<circle cx="737.35" cy="205.79" r="3.2" fill="#8c8c8c" opacity="0.55"/>
<circle cx="1114.68" cy="219.59" r="3.15" fill="#8c8c8c" opacity="0.55"/>
<circle cx="1017.4" cy="211.61" r="1.7" fill="#8c8c8c" opacity="0.55"/>
<circle cx="729.75" cy="222.42" r="1.91" fill="#8c8c8c" opacity="0.55"/>
<circle cx="849.02" cy="214.75" r="1.54" fill="#8c8c8c" opacity="0.55"/>
</g>
<ellipse cx="935" cy="322" rx="28" ry="12" fill="#8a8a8a" opacity="0.8" filter="url(#bblur2)"/>
<ellipse cx="1005" cy="318" rx="22" ry="11" fill="#8a8a8a" opacity="0.8" filter="url(#bblur2)"/>
<ellipse cx="1172" cy="312" rx="28" ry="13" fill="#8a8a8a" opacity="0.8" filter="url(#bblur2)"/>
<ellipse cx="1095" cy="322" rx="20" ry="6" fill="#8a8a8a" opacity="0.8" filter="url(#bblur2)"/>
<path d="M665,318 C667,317.67 671.17,317 677,316 C682.83,315 692,313.17 700,312 C708,310.83 716.33,309.67 725,309 C733.67,308.33 741.17,307.67 752,308 C762.83,308.33 777,309.33 790,311 C803,312.67 816.67,315.67 830,318 C843.33,320.33 858.33,324 870,325 C881.67,326 888.33,324.33 900,324 C911.67,323.67 926.67,323.5 940,323 C953.33,322.5 966.67,320.83 980,321 C993.33,321.17 1006.67,323.83 1020,324 C1033.33,324.17 1046.67,322.67 1060,322 C1073.33,321.33 1086.67,319.83 1100,320 C1113.33,320.17 1127.5,322.67 1140,323 C1152.5,323.33 1165,323.33 1175,322 C1185,320.67 1193.17,318 1200,315 C1206.83,312 1211,306.83 1216,304 C1221,301.17 1227.67,299 1230,298 L1230,421 L665,421 Z" fill="url(#bito)" filter="url(#bblur)"/>
<clipPath id="itoclip"><path d="M665,318 C667,317.67 671.17,317 677,316 C682.83,315 692,313.17 700,312 C708,310.83 716.33,309.67 725,309 C733.67,308.33 741.17,307.67 752,308 C762.83,308.33 777,309.33 790,311 C803,312.67 816.67,315.67 830,318 C843.33,320.33 858.33,324 870,325 C881.67,326 888.33,324.33 900,324 C911.67,323.67 926.67,323.5 940,323 C953.33,322.5 966.67,320.83 980,321 C993.33,321.17 1006.67,323.83 1020,324 C1033.33,324.17 1046.67,322.67 1060,322 C1073.33,321.33 1086.67,319.83 1100,320 C1113.33,320.17 1127.5,322.67 1140,323 C1152.5,323.33 1165,323.33 1175,322 C1185,320.67 1193.17,318 1200,315 C1206.83,312 1211,306.83 1216,304 C1221,301.17 1227.67,299 1230,298 L1230,421 L665,421 Z"/></clipPath>
<rect x="745" y="330" width="12" height="80" fill="#555" opacity="0.35" filter="url(#bblur2)"/>
<rect x="790" y="330" width="22" height="80" fill="#585858" opacity="0.45" filter="url(#bblur2)"/>
<rect x="860" y="330" width="10" height="80" fill="#555" opacity="0.3" filter="url(#bblur2)"/>
<rect x="938" y="330" width="50" height="80" fill="#363636" opacity="0.6" filter="url(#bblur2)"/>
<rect x="1000" y="330" width="14" height="80" fill="#555" opacity="0.3" filter="url(#bblur2)"/>
<rect x="1055" y="330" width="20" height="80" fill="#444" opacity="0.35" filter="url(#bblur2)"/>
<rect x="1120" y="330" width="12" height="80" fill="#575757" opacity="0.35" filter="url(#bblur2)"/>
<rect x="1180" y="330" width="16" height="80" fill="#454545" opacity="0.35" filter="url(#bblur2)"/>
<g clip-path="url(#itoclip)"><rect x="677" y="300" width="539" height="110" fill="#888" filter="url(#bstreak)"/></g>
<rect x="677" y="407.5" width="539" height="2" fill="#2e2e2e"/>
</g>
<rect x="1216" y="19.5" width="1.8" height="390.5" fill="#b8b8b8"/>
<rect x="676" y="63" width="2.5" height="2.5" fill="#222"/>
<rect x="676" y="164" width="2.5" height="2.5" fill="#222"/>
<rect x="676" y="252" width="2.5" height="2.5" fill="#222"/>
<rect x="676" y="293" width="2.5" height="2.5" fill="#222"/>
<g fill="#ffffff">
<text x="690" y="129.6" font-size="28.6" fill="#ffffff">LiF/AL</text>
<text x="690" y="182.4" font-size="28.6" fill="#f4f4f4">TPBi</text>
<text x="690" y="223.8" font-size="28.6" fill="#ffffff">QDs</text>
<text x="690" y="264.2" font-size="28.6" fill="#f4f4f4">PTAA</text>
<text x="690" y="304.4" font-size="28.6" fill="#f4f4f4">PEDOT:PSS</text>
<text x="690" y="368.8" font-size="28.6" fill="#ffffff">ITO</text>
<text x="1151.5" y="359.7" font-size="28.6" text-anchor="middle">40 nm</text>
</g>
<rect x="1108.5" y="372.2" width="81" height="21.4" fill="#ffffff"/>
</g>
<g id="pc">
<defs><linearGradient id="cbg" x1="0" y1="0" x2="0" y2="1">
<stop offset="0" stop-color="#fdf6ef"/><stop offset="0.25" stop-color="#f8e5d8"/><stop offset="0.5" stop-color="#f2d2bd"/><stop offset="0.75" stop-color="#eebda4"/><stop offset="1" stop-color="#e8a98a"/></linearGradient></defs>
<rect x="1306.8" y="15" width="527.2" height="424.4" fill="url(#cbg)"/>
<polyline points="1333.05,436.8 1333.05,432.1 1335.45,432.1 1337.85,432.1 1340.25,432.1 1342.65,432.09 1345.05,432.09 1347.46,432.09 1349.86,432.09 1352.26,432.09 1354.66,432.09 1357.06,432.09 1359.46,432.09 1361.86,432.09 1364.27,432.09 1366.67,432.09 1369.07,432.09 1371.47,432.08 1373.87,432.08 1376.27,432.08 1378.68,432.08 1381.08,432.08 1383.48,432.08 1385.88,432.08 1388.28,432.07 1390.68,432.07 1393.08,432.07 1395.49,432.07 1397.89,432.07 1400.29,432.06 1402.69,432.06 1405.09,432.06 1407.49,432.05 1409.89,432.05 1412.3,432.05 1414.7,432.04 1417.1,432.04 1419.5,432.04 1421.9,432.03 1424.3,432.03 1426.71,432.02 1429.11,432.02 1431.51,432.01 1433.91,432.01 1436.31,432 1438.71,431.99 1441.11,431.99 1443.52,431.98 1445.92,431.97 1448.32,431.96 1450.72,431.95 1453.12,431.94 1455.52,431.93 1457.92,431.92 1460.33,431.91 1462.73,431.89 1465.13,431.88 1467.53,431.86 1469.93,431.85 1472.33,431.83 1474.74,431.81 1477.14,431.79 1479.54,431.76 1481.94,431.74 1484.34,431.71 1486.74,431.68 1489.14,431.65 1491.55,431.62 1493.95,431.58 1496.35,431.55 1498.75,431.51 1501.15,431.46 1503.55,431.42 1505.95,431.37 1508.36,431.32 1510.76,431.26 1513.16,431.21 1515.56,431.15 1517.96,431.09 1520.36,431.03 1522.77,430.97 1525.17,430.91 1527.57,430.85 1529.97,430.8 1532.37,430.75 1534.77,430.7 1537.17,430.67 1539.58,430.64 1541.98,430.62 1544.38,430.6 1546.78,430.6 1549.18,430.61 1551.58,430.62 1553.98,430.65 1556.39,430.68 1558.79,430.72 1561.19,430.77 1563.59,430.82 1565.99,430.87 1568.39,430.93 1570.8,430.99 1573.2,431.04 1575.6,431.1 1578,431.16 1580.4,431.21 1582.8,431.27 1585.2,431.32 1587.61,431.37 1590.01,431.42 1592.41,431.46 1594.81,431.5 1597.21,431.54 1599.61,431.58 1602.01,431.61 1604.42,431.64 1606.82,431.67 1609.22,431.7 1611.62,431.72 1614.02,431.75 1616.42,431.77 1618.83,431.79 1621.23,431.81 1623.63,431.83 1626.03,431.84 1628.43,431.86 1630.83,431.87 1633.23,431.88 1635.64,431.9 1638.04,431.91 1640.44,431.92 1642.84,431.93 1645.24,431.94 1647.64,431.95 1650.04,431.96 1652.45,431.96 1654.85,431.97 1657.25,431.98 1659.65,431.98 1662.05,431.99 1664.45,431.99 1666.86,432 1669.26,432.01 1671.66,432.01 1674.06,432.01 1676.46,432.02 1678.86,432.02 1681.26,432.03 1683.67,432.03 1686.07,432.03 1688.47,432.04 1690.87,432.04 1693.27,432.04 1695.67,432.04 1698.07,432.05 1700.48,432.05 1702.88,432.05 1705.28,432.05 1707.68,432.06 1710.08,432.06 1712.48,432.06 1714.89,432.06 1717.29,432.06 1719.69,432.06 1722.09,432.07 1724.49,432.07 1726.89,432.07 1729.29,432.07 1731.7,432.07 1734.1,432.07 1736.5,432.07 1738.9,432.08 1741.3,432.08 1743.7,432.08 1746.1,432.08 1748.51,432.08 1750.91,432.08 1753.31,432.08 1755.71,432.08 1758.11,432.08 1760.51,432.08 1762.92,432.09 1765.32,432.09 1767.72,432.09 1770.12,432.09 1772.52,432.09 1774.92,432.09 1777.32,432.09 1779.73,432.09 1782.13,432.09 1784.53,432.09 1786.93,432.09 1789.33,432.09 1791.73,432.09 1794.13,432.09 1796.54,432.09 1798.94,432.09 1801.34,432.09 1803.74,432.09 1806.14,432.09 1808.54,432.09 1810.95,432.09 1813.35,432.1 1815.75,432.1 1818.15,432.1 1820.55,432.1 1822.95,432.1 1825.35,432.1 1827.76,432.1 1830.16,432.1 1832.56,432.1 1836.48,432.1" fill="none" stroke="#e9d8ee" stroke-width="2" stroke-linejoin="round"/>
<polyline points="1333.05,436.8 1333.05,432.09 1335.45,432.08 1337.85,432.08 1340.25,432.08 1342.65,432.08 1345.05,432.08 1347.46,432.08 1349.86,432.07 1352.26,432.07 1354.66,432.07 1357.06,432.06 1359.46,432.06 1361.86,432.06 1364.27,432.05 1366.67,432.05 1369.07,432.05 1371.47,432.04 1373.87,432.04 1376.27,432.03 1378.68,432.02 1381.08,432.02 1383.48,432.01 1385.88,432.01 1388.28,432 1390.68,431.99 1393.08,431.98 1395.49,431.97 1397.89,431.97 1400.29,431.96 1402.69,431.95 1405.09,431.94 1407.49,431.92 1409.89,431.91 1412.3,431.9 1414.7,431.88 1417.1,431.87 1419.5,431.85 1421.9,431.84 1424.3,431.82 1426.71,431.8 1429.11,431.78 1431.51,431.76 1433.91,431.74 1436.31,431.71 1438.71,431.69 1441.11,431.66 1443.52,431.63 1445.92,431.6 1448.32,431.56 1450.72,431.53 1453.12,431.49 1455.52,431.45 1457.92,431.4 1460.33,431.35 1462.73,431.3 1465.13,431.24 1467.53,431.18 1469.93,431.12 1472.33,431.05 1474.74,430.97 1477.14,430.89 1479.54,430.8 1481.94,430.7 1484.34,430.6 1486.74,430.49 1489.14,430.37 1491.55,430.24 1493.95,430.11 1496.35,429.96 1498.75,429.8 1501.15,429.63 1503.55,429.45 1505.95,429.27 1508.36,429.07 1510.76,428.86 1513.16,428.64 1515.56,428.42 1517.96,428.19 1520.36,427.96 1522.77,427.72 1525.17,427.5 1527.57,427.28 1529.97,427.07 1532.37,426.88 1534.77,426.71 1537.17,426.56 1539.58,426.44 1541.98,426.36 1544.38,426.31 1546.78,426.3 1549.18,426.33 1551.58,426.39 1553.98,426.48 1556.39,426.61 1558.79,426.76 1561.19,426.94 1563.59,427.14 1565.99,427.35 1568.39,427.56 1570.8,427.79 1573.2,428.02 1575.6,428.24 1578,428.46 1580.4,428.68 1582.8,428.89 1585.2,429.08 1587.61,429.27 1590.01,429.45 1592.41,429.62 1594.81,429.78 1597.21,429.93 1599.61,430.07 1602.01,430.21 1604.42,430.33 1606.82,430.44 1609.22,430.55 1611.62,430.64 1614.02,430.74 1616.42,430.82 1618.83,430.9 1621.23,430.97 1623.63,431.04 1626.03,431.1 1628.43,431.16 1630.83,431.22 1633.23,431.27 1635.64,431.32 1638.04,431.36 1640.44,431.4 1642.84,431.44 1645.24,431.48 1647.64,431.51 1650.04,431.54 1652.45,431.57 1654.85,431.6 1657.25,431.62 1659.65,431.65 1662.05,431.67 1664.45,431.69 1666.86,431.71 1669.26,431.73 1671.66,431.75 1674.06,431.77 1676.46,431.78 1678.86,431.8 1681.26,431.81 1683.67,431.83 1686.07,431.84 1688.47,431.85 1690.87,431.86 1693.27,431.87 1695.67,431.88 1698.07,431.89 1700.48,431.9 1702.88,431.91 1705.28,431.92 1707.68,431.93 1710.08,431.94 1712.48,431.94 1714.89,431.95 1717.29,431.96 1719.69,431.96 1722.09,431.97 1724.49,431.98 1726.89,431.98 1729.29,431.99 1731.7,431.99 1734.1,432 1736.5,432 1738.9,432.01 1741.3,432.01 1743.7,432.01 1746.1,432.02 1748.51,432.02 1750.91,432.03 1753.31,432.03 1755.71,432.03 1758.11,432.04 1760.51,432.04 1762.92,432.04 1765.32,432.04 1767.72,432.05 1770.12,432.05 1772.52,432.05 1774.92,432.06 1777.32,432.06 1779.73,432.06 1782.13,432.06 1784.53,432.06 1786.93,432.07 1789.33,432.07 1791.73,432.07 1794.13,432.07 1796.54,432.07 1798.94,432.07 1801.34,432.08 1803.74,432.08 1806.14,432.08 1808.54,432.08 1810.95,432.08 1813.35,432.08 1815.75,432.08 1818.15,432.08 1820.55,432.08 1822.95,432.09 1825.35,432.09 1827.76,432.09 1830.16,432.09 1832.56,432.09 1836.48,432.09" fill="none" stroke="#e6d2eb" stroke-width="2" stroke-linejoin="round"/>
<polyline points="1333.05,436.8 1333.05,432.03 1335.45,432.02 1337.85,432.02 1340.25,432.01 1342.65,432 1345.05,431.99 1347.46,431.98 1349.86,431.96 1352.26,431.95 1354.66,431.94 1357.06,431.92 1359.46,431.9 1361.86,431.89 1364.27,431.87 1366.67,431.85 1369.07,431.83 1371.47,431.8 1373.87,431.78 1376.27,431.75 1378.68,431.73 1381.08,431.7 1383.48,431.67 1385.88,431.63 1388.28,431.6 1390.68,431.56 1393.08,431.52 1395.49,431.48 1397.89,431.43 1400.29,431.39 1402.69,431.34 1405.09,431.28 1407.49,431.22 1409.89,431.16 1412.3,431.1 1414.7,431.03 1417.1,430.96 1419.5,430.88 1421.9,430.8 1424.3,430.71 1426.71,430.62 1429.11,430.52 1431.51,430.41 1433.91,430.3 1436.31,430.18 1438.71,430.05 1441.11,429.91 1443.52,429.77 1445.92,429.61 1448.32,429.44 1450.72,429.26 1453.12,429.06 1455.52,428.85 1457.92,428.63 1460.33,428.39 1462.73,428.13 1465.13,427.85 1467.53,427.55 1469.93,427.22 1472.33,426.87 1474.74,426.49 1477.14,426.09 1479.54,425.65 1481.94,425.17 1484.34,424.66 1486.74,424.11 1489.14,423.52 1491.55,422.88 1493.95,422.2 1496.35,421.47 1498.75,420.68 1501.15,419.85 1503.55,418.96 1505.95,418.02 1508.36,417.03 1510.76,416 1513.16,414.92 1515.56,413.81 1517.96,412.67 1520.36,411.52 1522.77,410.37 1525.17,409.24 1527.57,408.15 1529.97,407.11 1532.37,406.16 1534.77,405.31 1537.17,404.59 1539.58,404.01 1541.98,403.6 1544.38,403.36 1546.78,403.3 1549.18,403.43 1551.58,403.74 1553.98,404.21 1556.39,404.84 1558.79,405.6 1561.19,406.48 1563.59,407.45 1565.99,408.49 1568.39,409.58 1570.8,410.69 1573.2,411.82 1575.6,412.93 1578,414.03 1580.4,415.1 1582.8,416.14 1585.2,417.13 1587.61,418.07 1590.01,418.97 1592.41,419.81 1594.81,420.6 1597.21,421.35 1599.61,422.04 1602.01,422.69 1604.42,423.3 1606.82,423.86 1609.22,424.39 1611.62,424.87 1614.02,425.33 1616.42,425.75 1618.83,426.14 1621.23,426.5 1623.63,426.84 1626.03,427.15 1628.43,427.45 1630.83,427.72 1633.23,427.97 1635.64,428.21 1638.04,428.43 1640.44,428.63 1642.84,428.82 1645.24,429 1647.64,429.17 1650.04,429.33 1652.45,429.47 1654.85,429.61 1657.25,429.74 1659.65,429.86 1662.05,429.97 1664.45,430.08 1666.86,430.18 1669.26,430.28 1671.66,430.37 1674.06,430.45 1676.46,430.53 1678.86,430.61 1681.26,430.68 1683.67,430.74 1686.07,430.81 1688.47,430.87 1690.87,430.93 1693.27,430.98 1695.67,431.03 1698.07,431.08 1700.48,431.13 1702.88,431.17 1705.28,431.21 1707.68,431.25 1710.08,431.29 1712.48,431.33 1714.89,431.36 1717.29,431.4 1719.69,431.43 1722.09,431.46 1724.49,431.49 1726.89,431.51 1729.29,431.54 1731.7,431.57 1734.1,431.59 1736.5,431.61 1738.9,431.64 1741.3,431.66 1743.7,431.68 1746.1,431.7 1748.51,431.72 1750.91,431.73 1753.31,431.75 1755.71,431.77 1758.11,431.78 1760.51,431.8 1762.92,431.81 1765.32,431.83 1767.72,431.84 1770.12,431.85 1772.52,431.86 1774.92,431.88 1777.32,431.89 1779.73,431.9 1782.13,431.91 1784.53,431.92 1786.93,431.93 1789.33,431.94 1791.73,431.95 1794.13,431.95 1796.54,431.96 1798.94,431.97 1801.34,431.98 1803.74,431.98 1806.14,431.99 1808.54,432 1810.95,432 1813.35,432.01 1815.75,432.01 1818.15,432.02 1820.55,432.02 1822.95,432.03 1825.35,432.03 1827.76,432.04 1830.16,432.04 1832.56,432.05 1836.48,432.05" fill="none" stroke="#e3cde9" stroke-width="2.2" stroke-linejoin="round"/>
<polyline points="1333.05,436.8 1333.05,431.99 1335.45,431.98 1337.85,431.97 1340.25,431.95 1342.65,431.94 1345.05,431.92 1347.46,431.9 1349.86,431.88 1352.26,431.86 1354.66,431.84 1357.06,431.81 1359.46,431.79 1361.86,431.76 1364.27,431.73 1366.67,431.7 1369.07,431.66 1371.47,431.63 1373.87,431.59 1376.27,431.55 1378.68,431.5 1381.08,431.46 1383.48,431.41 1385.88,431.35 1388.28,431.3 1390.68,431.24 1393.08,431.17 1395.49,431.1 1397.89,431.03 1400.29,430.96 1402.69,430.88 1405.09,430.79 1407.49,430.7 1409.89,430.6 1412.3,430.5 1414.7,430.39 1417.1,430.27 1419.5,430.15 1421.9,430.02 1424.3,429.88 1426.71,429.73 1429.11,429.57 1431.51,429.4 1433.91,429.22 1436.31,429.03 1438.71,428.82 1441.11,428.6 1443.52,428.36 1445.92,428.11 1448.32,427.84 1450.72,427.55 1453.12,427.24 1455.52,426.9 1457.92,426.54 1460.33,426.16 1462.73,425.74 1465.13,425.29 1467.53,424.81 1469.93,424.29 1472.33,423.73 1474.74,423.13 1477.14,422.47 1479.54,421.77 1481.94,421.01 1484.34,420.19 1486.74,419.31 1489.14,418.37 1491.55,417.35 1493.95,416.25 1496.35,415.08 1498.75,413.83 1501.15,412.49 1503.55,411.07 1505.95,409.57 1508.36,407.98 1510.76,406.33 1513.16,404.6 1515.56,402.82 1517.96,401 1520.36,399.16 1522.77,397.32 1525.17,395.51 1527.57,393.76 1529.97,392.1 1532.37,390.58 1534.77,389.22 1537.17,388.06 1539.58,387.14 1541.98,386.48 1544.38,386.09 1546.78,386.01 1549.18,386.21 1551.58,386.7 1553.98,387.46 1556.39,388.46 1558.79,389.69 1561.19,391.09 1563.59,392.64 1565.99,394.31 1568.39,396.05 1570.8,397.83 1573.2,399.63 1575.6,401.42 1578,403.18 1580.4,404.9 1582.8,406.55 1585.2,408.13 1587.61,409.64 1590.01,411.07 1592.41,412.43 1594.81,413.7 1597.21,414.89 1599.61,416 1602.01,417.04 1604.42,418.01 1606.82,418.91 1609.22,419.75 1611.62,420.53 1614.02,421.26 1616.42,421.93 1618.83,422.56 1621.23,423.14 1623.63,423.68 1626.03,424.18 1628.43,424.65 1630.83,425.09 1633.23,425.49 1635.64,425.87 1638.04,426.22 1640.44,426.55 1642.84,426.86 1645.24,427.14 1647.64,427.41 1650.04,427.66 1652.45,427.9 1654.85,428.12 1657.25,428.32 1659.65,428.52 1662.05,428.7 1664.45,428.87 1666.86,429.03 1669.26,429.18 1671.66,429.33 1674.06,429.46 1676.46,429.59 1678.86,429.71 1681.26,429.82 1683.67,429.93 1686.07,430.03 1688.47,430.13 1690.87,430.22 1693.27,430.31 1695.67,430.39 1698.07,430.47 1700.48,430.54 1702.88,430.61 1705.28,430.68 1707.68,430.74 1710.08,430.81 1712.48,430.86 1714.89,430.92 1717.29,430.97 1719.69,431.02 1722.09,431.07 1724.49,431.12 1726.89,431.16 1729.29,431.2 1731.7,431.25 1734.1,431.28 1736.5,431.32 1738.9,431.36 1741.3,431.39 1743.7,431.42 1746.1,431.45 1748.51,431.48 1750.91,431.51 1753.31,431.54 1755.71,431.57 1758.11,431.59 1760.51,431.62 1762.92,431.64 1765.32,431.66 1767.72,431.68 1770.12,431.7 1772.52,431.72 1774.92,431.74 1777.32,431.76 1779.73,431.78 1782.13,431.79 1784.53,431.81 1786.93,431.83 1789.33,431.84 1791.73,431.85 1794.13,431.87 1796.54,431.88 1798.94,431.89 1801.34,431.9 1803.74,431.92 1806.14,431.93 1808.54,431.94 1810.95,431.95 1813.35,431.95 1815.75,431.96 1818.15,431.97 1820.55,431.98 1822.95,431.99 1825.35,431.99 1827.76,432 1830.16,432.01 1832.56,432.01 1836.48,432.02" fill="none" stroke="#dac4e6" stroke-width="2.2" stroke-linejoin="round"/>
<polyline points="1333.05,436.8 1333.05,431.97 1335.45,431.95 1337.85,431.94 1340.25,431.92 1342.65,431.9 1345.05,431.88 1347.46,431.86 1349.86,431.84 1352.26,431.81 1354.66,431.78 1357.06,431.75 1359.46,431.72 1361.86,431.69 1364.27,431.65 1366.67,431.61 1369.07,431.57 1371.47,431.53 1373.87,431.48 1376.27,431.43 1378.68,431.38 1381.08,431.32 1383.48,431.26 1385.88,431.2 1388.28,431.13 1390.68,431.06 1393.08,430.98 1395.49,430.9 1397.89,430.81 1400.29,430.72 1402.69,430.62 1405.09,430.52 1407.49,430.41 1409.89,430.29 1412.3,430.17 1414.7,430.03 1417.1,429.89 1419.5,429.74 1421.9,429.59 1424.3,429.42 1426.71,429.24 1429.11,429.04 1431.51,428.84 1433.91,428.62 1436.31,428.39 1438.71,428.14 1441.11,427.87 1443.52,427.59 1445.92,427.28 1448.32,426.95 1450.72,426.6 1453.12,426.23 1455.52,425.82 1457.92,425.39 1460.33,424.92 1462.73,424.42 1465.13,423.88 1467.53,423.29 1469.93,422.66 1472.33,421.99 1474.74,421.26 1477.14,420.47 1479.54,419.62 1481.94,418.7 1484.34,417.71 1486.74,416.65 1489.14,415.51 1491.55,414.27 1493.95,412.95 1496.35,411.54 1498.75,410.02 1501.15,408.41 1503.55,406.69 1505.95,404.87 1508.36,402.96 1510.76,400.96 1513.16,398.88 1515.56,396.73 1517.96,394.53 1520.36,392.3 1522.77,390.08 1525.17,387.89 1527.57,385.78 1529.97,383.78 1532.37,381.93 1534.77,380.29 1537.17,378.89 1539.58,377.78 1541.98,376.98 1544.38,376.51 1546.78,376.41 1549.18,376.65 1551.58,377.24 1553.98,378.16 1556.39,379.38 1558.79,380.85 1561.19,382.55 1563.59,384.43 1565.99,386.44 1568.39,388.54 1570.8,390.7 1573.2,392.87 1575.6,395.03 1578,397.16 1580.4,399.23 1582.8,401.23 1585.2,403.14 1587.61,404.97 1590.01,406.7 1592.41,408.33 1594.81,409.86 1597.21,411.3 1599.61,412.65 1602.01,413.9 1604.42,415.08 1606.82,416.17 1609.22,417.18 1611.62,418.12 1614.02,419 1616.42,419.82 1618.83,420.57 1621.23,421.27 1623.63,421.93 1626.03,422.54 1628.43,423.1 1630.83,423.63 1633.23,424.12 1635.64,424.57 1638.04,425 1640.44,425.39 1642.84,425.76 1645.24,426.11 1647.64,426.43 1650.04,426.74 1652.45,427.02 1654.85,427.29 1657.25,427.54 1659.65,427.77 1662.05,427.99 1664.45,428.2 1666.86,428.39 1669.26,428.57 1671.66,428.75 1674.06,428.91 1676.46,429.06 1678.86,429.21 1681.26,429.35 1683.67,429.48 1686.07,429.6 1688.47,429.72 1690.87,429.83 1693.27,429.93 1695.67,430.03 1698.07,430.13 1700.48,430.22 1702.88,430.3 1705.28,430.38 1707.68,430.46 1710.08,430.54 1712.48,430.61 1714.89,430.67 1717.29,430.74 1719.69,430.8 1722.09,430.86 1724.49,430.91 1726.89,430.97 1729.29,431.02 1731.7,431.07 1734.1,431.11 1736.5,431.16 1738.9,431.2 1741.3,431.24 1743.7,431.28 1746.1,431.32 1748.51,431.36 1750.91,431.39 1753.31,431.42 1755.71,431.46 1758.11,431.49 1760.51,431.52 1762.92,431.54 1765.32,431.57 1767.72,431.6 1770.12,431.62 1772.52,431.65 1774.92,431.67 1777.32,431.69 1779.73,431.71 1782.13,431.73 1784.53,431.75 1786.93,431.77 1789.33,431.79 1791.73,431.8 1794.13,431.82 1796.54,431.83 1798.94,431.85 1801.34,431.86 1803.74,431.88 1806.14,431.89 1808.54,431.9 1810.95,431.91 1813.35,431.92 1815.75,431.94 1818.15,431.95 1820.55,431.95 1822.95,431.96 1825.35,431.97 1827.76,431.98 1830.16,431.99 1832.56,432 1836.48,432" fill="none" stroke="#bea4d8" stroke-width="2.2" stroke-linejoin="round"/>
<polyline points="1333.05,436.8 1333.05,431.9 1335.45,431.88 1337.85,431.85 1340.25,431.83 1342.65,431.8 1345.05,431.77 1347.46,431.74 1349.86,431.7 1352.26,431.66 1354.66,431.62 1357.06,431.58 1359.46,431.53 1361.86,431.48 1364.27,431.42 1366.67,431.36 1369.07,431.3 1371.47,431.23 1373.87,431.16 1376.27,431.09 1378.68,431 1381.08,430.92 1383.48,430.83 1385.88,430.73 1388.28,430.63 1390.68,430.52 1393.08,430.4 1395.49,430.28 1397.89,430.14 1400.29,430 1402.69,429.86 1405.09,429.7 1407.49,429.53 1409.89,429.35 1412.3,429.17 1414.7,428.97 1417.1,428.75 1419.5,428.53 1421.9,428.28 1424.3,428.03 1426.71,427.76 1429.11,427.46 1431.51,427.15 1433.91,426.82 1436.31,426.47 1438.71,426.09 1441.11,425.69 1443.52,425.25 1445.92,424.79 1448.32,424.29 1450.72,423.76 1453.12,423.19 1455.52,422.58 1457.92,421.92 1460.33,421.21 1462.73,420.45 1465.13,419.62 1467.53,418.74 1469.93,417.79 1472.33,416.76 1474.74,415.65 1477.14,414.45 1479.54,413.17 1481.94,411.78 1484.34,410.28 1486.74,408.66 1489.14,406.93 1491.55,405.06 1493.95,403.05 1496.35,400.9 1498.75,398.6 1501.15,396.16 1503.55,393.55 1505.95,390.8 1508.36,387.9 1510.76,384.86 1513.16,381.7 1515.56,378.43 1517.96,375.1 1520.36,371.72 1522.77,368.35 1525.17,365.03 1527.57,361.83 1529.97,358.79 1532.37,355.99 1534.77,353.5 1537.17,351.38 1539.58,349.69 1541.98,348.47 1544.38,347.77 1546.78,347.61 1549.18,347.98 1551.58,348.88 1553.98,350.27 1556.39,352.11 1558.79,354.36 1561.19,356.93 1563.59,359.78 1565.99,362.83 1568.39,366.02 1570.8,369.29 1573.2,372.59 1575.6,375.87 1578,379.09 1580.4,382.24 1582.8,385.27 1585.2,388.17 1587.61,390.94 1590.01,393.56 1592.41,396.04 1594.81,398.37 1597.21,400.55 1599.61,402.59 1602.01,404.5 1604.42,406.27 1606.82,407.93 1609.22,409.47 1611.62,410.9 1614.02,412.23 1616.42,413.46 1618.83,414.61 1621.23,415.68 1623.63,416.67 1626.03,417.59 1628.43,418.45 1630.83,419.25 1633.23,419.99 1635.64,420.68 1638.04,421.32 1640.44,421.93 1642.84,422.49 1645.24,423.01 1647.64,423.5 1650.04,423.96 1652.45,424.39 1654.85,424.8 1657.25,425.18 1659.65,425.53 1662.05,425.86 1664.45,426.18 1666.86,426.47 1669.26,426.75 1671.66,427.01 1674.06,427.26 1676.46,427.49 1678.86,427.72 1681.26,427.92 1683.67,428.12 1686.07,428.31 1688.47,428.49 1690.87,428.65 1693.27,428.81 1695.67,428.96 1698.07,429.11 1700.48,429.24 1702.88,429.37 1705.28,429.5 1707.68,429.62 1710.08,429.73 1712.48,429.83 1714.89,429.94 1717.29,430.03 1719.69,430.13 1722.09,430.22 1724.49,430.3 1726.89,430.38 1729.29,430.46 1731.7,430.53 1734.1,430.6 1736.5,430.67 1738.9,430.74 1741.3,430.8 1743.7,430.86 1746.1,430.92 1748.51,430.97 1750.91,431.02 1753.31,431.07 1755.71,431.12 1758.11,431.17 1760.51,431.21 1762.92,431.26 1765.32,431.3 1767.72,431.34 1770.12,431.37 1772.52,431.41 1774.92,431.44 1777.32,431.48 1779.73,431.51 1782.13,431.54 1784.53,431.57 1786.93,431.6 1789.33,431.62 1791.73,431.65 1794.13,431.67 1796.54,431.7 1798.94,431.72 1801.34,431.74 1803.74,431.76 1806.14,431.78 1808.54,431.8 1810.95,431.82 1813.35,431.83 1815.75,431.85 1818.15,431.87 1820.55,431.88 1822.95,431.89 1825.35,431.91 1827.76,431.92 1830.16,431.93 1832.56,431.94 1836.48,431.95" fill="none" stroke="#9070bd" stroke-width="2.2" stroke-linejoin="round"/>
<polyline points="1333.05,436.8 1333.05,431.84 1335.45,431.82 1337.85,431.78 1340.25,431.75 1342.65,431.71 1345.05,431.67 1347.46,431.63 1349.86,431.59 1352.26,431.54 1354.66,431.48 1357.06,431.42 1359.46,431.36 1361.86,431.3 1364.27,431.23 1366.67,431.15 1369.07,431.07 1371.47,430.98 1373.87,430.89 1376.27,430.79 1378.68,430.69 1381.08,430.58 1383.48,430.46 1385.88,430.34 1388.28,430.2 1390.68,430.06 1393.08,429.91 1395.49,429.75 1397.89,429.58 1400.29,429.4 1402.69,429.21 1405.09,429.01 1407.49,428.8 1409.89,428.57 1412.3,428.33 1414.7,428.07 1417.1,427.79 1419.5,427.5 1421.9,427.19 1424.3,426.86 1426.71,426.51 1429.11,426.14 1431.51,425.74 1433.91,425.31 1436.31,424.85 1438.71,424.37 1441.11,423.85 1443.52,423.29 1445.92,422.7 1448.32,422.06 1450.72,421.37 1453.12,420.64 1455.52,419.85 1457.92,419 1460.33,418.09 1462.73,417.11 1465.13,416.05 1467.53,414.91 1469.93,413.69 1472.33,412.36 1474.74,410.94 1477.14,409.4 1479.54,407.74 1481.94,405.95 1484.34,404.03 1486.74,401.95 1489.14,399.72 1491.55,397.31 1493.95,394.73 1496.35,391.97 1498.75,389.01 1501.15,385.86 1503.55,382.51 1505.95,378.97 1508.36,375.24 1510.76,371.33 1513.16,367.26 1515.56,363.07 1517.96,358.77 1520.36,354.43 1522.77,350.09 1525.17,345.83 1527.57,341.7 1529.97,337.79 1532.37,334.2 1534.77,330.99 1537.17,328.26 1539.58,326.09 1541.98,324.52 1544.38,323.62 1546.78,323.41 1549.18,323.89 1551.58,325.05 1553.98,326.84 1556.39,329.21 1558.79,332.09 1561.19,335.4 1563.59,339.06 1565.99,342.99 1568.39,347.09 1570.8,351.3 1573.2,355.54 1575.6,359.76 1578,363.91 1580.4,367.95 1582.8,371.85 1585.2,375.59 1587.61,379.15 1590.01,382.52 1592.41,385.71 1594.81,388.7 1597.21,391.51 1599.61,394.14 1602.01,396.59 1604.42,398.88 1606.82,401.01 1609.22,402.99 1611.62,404.83 1614.02,406.54 1616.42,408.13 1618.83,409.6 1621.23,410.97 1623.63,412.25 1626.03,413.43 1628.43,414.54 1630.83,415.56 1633.23,416.52 1635.64,417.41 1638.04,418.24 1640.44,419.01 1642.84,419.74 1645.24,420.41 1647.64,421.04 1650.04,421.63 1652.45,422.19 1654.85,422.71 1657.25,423.19 1659.65,423.65 1662.05,424.08 1664.45,424.48 1666.86,424.86 1669.26,425.22 1671.66,425.56 1674.06,425.88 1676.46,426.18 1678.86,426.46 1681.26,426.73 1683.67,426.98 1686.07,427.22 1688.47,427.45 1690.87,427.67 1693.27,427.87 1695.67,428.07 1698.07,428.25 1700.48,428.43 1702.88,428.59 1705.28,428.75 1707.68,428.9 1710.08,429.05 1712.48,429.19 1714.89,429.32 1717.29,429.44 1719.69,429.56 1722.09,429.68 1724.49,429.79 1726.89,429.89 1729.29,429.99 1731.7,430.08 1734.1,430.18 1736.5,430.26 1738.9,430.35 1741.3,430.43 1743.7,430.5 1746.1,430.58 1748.51,430.65 1750.91,430.72 1753.31,430.78 1755.71,430.84 1758.11,430.9 1760.51,430.96 1762.92,431.02 1765.32,431.07 1767.72,431.12 1770.12,431.17 1772.52,431.21 1774.92,431.26 1777.32,431.3 1779.73,431.34 1782.13,431.38 1784.53,431.42 1786.93,431.45 1789.33,431.49 1791.73,431.52 1794.13,431.55 1796.54,431.58 1798.94,431.61 1801.34,431.64 1803.74,431.66 1806.14,431.69 1808.54,431.71 1810.95,431.74 1813.35,431.76 1815.75,431.78 1818.15,431.8 1820.55,431.82 1822.95,431.83 1825.35,431.85 1827.76,431.87 1830.16,431.88 1832.56,431.9 1836.48,431.91" fill="none" stroke="#7050a6" stroke-width="2.3" stroke-linejoin="round"/>
<polyline points="1333.05,436.8 1333.05,431.76 1335.45,431.72 1337.85,431.68 1340.25,431.63 1342.65,431.58 1345.05,431.53 1347.46,431.47 1349.86,431.41 1352.26,431.34 1354.66,431.27 1357.06,431.2 1359.46,431.11 1361.86,431.02 1364.27,430.93 1366.67,430.83 1369.07,430.72 1371.47,430.61 1373.87,430.48 1376.27,430.35 1378.68,430.21 1381.08,430.06 1383.48,429.91 1385.88,429.74 1388.28,429.56 1390.68,429.37 1393.08,429.17 1395.49,428.96 1397.89,428.73 1400.29,428.49 1402.69,428.23 1405.09,427.96 1407.49,427.68 1409.89,427.37 1412.3,427.04 1414.7,426.7 1417.1,426.33 1419.5,425.94 1421.9,425.53 1424.3,425.08 1426.71,424.61 1429.11,424.11 1431.51,423.58 1433.91,423.01 1436.31,422.4 1438.71,421.74 1441.11,421.05 1443.52,420.3 1445.92,419.5 1448.32,418.65 1450.72,417.73 1453.12,416.75 1455.52,415.69 1457.92,414.55 1460.33,413.33 1462.73,412.02 1465.13,410.6 1467.53,409.08 1469.93,407.44 1472.33,405.67 1474.74,403.76 1477.14,401.7 1479.54,399.47 1481.94,397.08 1484.34,394.5 1486.74,391.72 1489.14,388.72 1491.55,385.5 1493.95,382.05 1496.35,378.34 1498.75,374.39 1501.15,370.16 1503.55,365.68 1505.95,360.93 1508.36,355.93 1510.76,350.7 1513.16,345.25 1515.56,339.63 1517.96,333.88 1520.36,328.07 1522.77,322.26 1525.17,316.54 1527.57,311.01 1529.97,305.78 1532.37,300.96 1534.77,296.67 1537.17,293.01 1539.58,290.1 1541.98,288 1544.38,286.8 1546.78,286.52 1549.18,287.16 1551.58,288.71 1553.98,291.1 1556.39,294.28 1558.79,298.14 1561.19,302.58 1563.59,307.48 1565.99,312.74 1568.39,318.23 1570.8,323.87 1573.2,329.56 1575.6,335.21 1578,340.77 1580.4,346.18 1582.8,351.4 1585.2,356.41 1587.61,361.18 1590.01,365.7 1592.41,369.96 1594.81,373.97 1597.21,377.73 1599.61,381.25 1602.01,384.54 1604.42,387.6 1606.82,390.45 1609.22,393.1 1611.62,395.57 1614.02,397.86 1616.42,399.99 1618.83,401.96 1621.23,403.8 1623.63,405.51 1626.03,407.1 1628.43,408.58 1630.83,409.95 1633.23,411.23 1635.64,412.42 1638.04,413.53 1640.44,414.57 1642.84,415.54 1645.24,416.44 1647.64,417.29 1650.04,418.08 1652.45,418.82 1654.85,419.52 1657.25,420.17 1659.65,420.78 1662.05,421.36 1664.45,421.9 1666.86,422.41 1669.26,422.88 1671.66,423.34 1674.06,423.76 1676.46,424.17 1678.86,424.55 1681.26,424.9 1683.67,425.24 1686.07,425.57 1688.47,425.87 1690.87,426.16 1693.27,426.44 1695.67,426.7 1698.07,426.94 1700.48,427.18 1702.88,427.4 1705.28,427.62 1707.68,427.82 1710.08,428.01 1712.48,428.2 1714.89,428.37 1717.29,428.54 1719.69,428.7 1722.09,428.85 1724.49,429 1726.89,429.14 1729.29,429.27 1731.7,429.4 1734.1,429.52 1736.5,429.64 1738.9,429.75 1741.3,429.86 1743.7,429.96 1746.1,430.06 1748.51,430.16 1750.91,430.25 1753.31,430.33 1755.71,430.42 1758.11,430.5 1760.51,430.57 1762.92,430.65 1765.32,430.72 1767.72,430.78 1770.12,430.85 1772.52,430.91 1774.92,430.97 1777.32,431.03 1779.73,431.08 1782.13,431.14 1784.53,431.19 1786.93,431.23 1789.33,431.28 1791.73,431.32 1794.13,431.37 1796.54,431.41 1798.94,431.44 1801.34,431.48 1803.74,431.52 1806.14,431.55 1808.54,431.58 1810.95,431.61 1813.35,431.64 1815.75,431.67 1818.15,431.7 1820.55,431.72 1822.95,431.74 1825.35,431.77 1827.76,431.79 1830.16,431.81 1832.56,431.83 1836.48,431.84" fill="none" stroke="#553891" stroke-width="2.4" stroke-linejoin="round"/>
<polyline points="1333.05,436.8 1333.05,431.2 1335.45,431.1 1337.85,430.99 1340.25,430.87 1342.65,430.75 1345.05,430.61 1347.46,430.46 1349.86,430.29 1352.26,430.12 1354.66,429.93 1357.06,429.73 1359.46,429.52 1361.86,429.28 1364.27,429.04 1366.67,428.77 1369.07,428.49 1371.47,428.19 1373.87,427.86 1376.27,427.52 1378.68,427.16 1381.08,426.77 1383.48,426.35 1385.88,425.91 1388.28,425.45 1390.68,424.95 1393.08,424.43 1395.49,423.87 1397.89,423.27 1400.29,422.64 1402.69,421.97 1405.09,421.26 1407.49,420.51 1409.89,419.71 1412.3,418.86 1414.7,417.95 1417.1,416.99 1419.5,415.97 1421.9,414.88 1424.3,413.72 1426.71,412.49 1429.11,411.17 1431.51,409.77 1433.91,408.28 1436.31,406.68 1438.71,404.97 1441.11,403.15 1443.52,401.2 1445.92,399.1 1448.32,396.86 1450.72,394.46 1453.12,391.88 1455.52,389.12 1457.92,386.14 1460.33,382.94 1462.73,379.5 1465.13,375.79 1467.53,371.8 1469.93,367.49 1472.33,362.85 1474.74,357.85 1477.14,352.46 1479.54,346.64 1481.94,340.36 1484.34,333.6 1486.74,326.31 1489.14,318.47 1491.55,310.04 1493.95,300.99 1496.35,291.29 1498.75,280.92 1501.15,269.86 1503.55,258.11 1505.95,245.68 1508.36,232.58 1510.76,218.87 1513.16,204.6 1515.56,189.88 1517.96,174.82 1520.36,159.58 1522.77,144.36 1525.17,129.39 1527.57,114.91 1529.97,101.21 1532.37,88.58 1534.77,77.34 1537.17,67.76 1539.58,60.12 1541.98,54.64 1544.38,51.48 1546.78,50.75 1549.18,52.44 1551.58,56.48 1553.98,62.76 1556.39,71.08 1558.79,81.19 1561.19,92.82 1563.59,105.66 1565.99,119.43 1568.39,133.83 1570.8,148.59 1573.2,163.48 1575.6,178.29 1578,192.86 1580.4,207.03 1582.8,220.71 1585.2,233.82 1587.61,246.31 1590.01,258.15 1592.41,269.33 1594.81,279.83 1597.21,289.69 1599.61,298.9 1602.01,307.51 1604.42,315.53 1606.82,323 1609.22,329.94 1611.62,336.4 1614.02,342.4 1616.42,347.98 1618.83,353.16 1621.23,357.97 1623.63,362.45 1626.03,366.61 1628.43,370.48 1630.83,374.08 1633.23,377.43 1635.64,380.55 1638.04,383.47 1640.44,386.18 1642.84,388.72 1645.24,391.09 1647.64,393.3 1650.04,395.38 1652.45,397.32 1654.85,399.14 1657.25,400.85 1659.65,402.45 1662.05,403.96 1664.45,405.37 1666.86,406.71 1669.26,407.96 1671.66,409.14 1674.06,410.26 1676.46,411.31 1678.86,412.31 1681.26,413.25 1683.67,414.14 1686.07,414.99 1688.47,415.78 1690.87,416.54 1693.27,417.26 1695.67,417.94 1698.07,418.59 1700.48,419.21 1702.88,419.79 1705.28,420.35 1707.68,420.88 1710.08,421.39 1712.48,421.87 1714.89,422.33 1717.29,422.77 1719.69,423.19 1722.09,423.59 1724.49,423.98 1726.89,424.34 1729.29,424.69 1731.7,425.03 1734.1,425.35 1736.5,425.66 1738.9,425.95 1741.3,426.23 1743.7,426.5 1746.1,426.76 1748.51,427.01 1750.91,427.24 1753.31,427.47 1755.71,427.69 1758.11,427.9 1760.51,428.1 1762.92,428.29 1765.32,428.48 1767.72,428.65 1770.12,428.82 1772.52,428.99 1774.92,429.14 1777.32,429.29 1779.73,429.44 1782.13,429.57 1784.53,429.7 1786.93,429.83 1789.33,429.95 1791.73,430.07 1794.13,430.18 1796.54,430.28 1798.94,430.38 1801.34,430.48 1803.74,430.57 1806.14,430.66 1808.54,430.74 1810.95,430.82 1813.35,430.9 1815.75,430.97 1818.15,431.04 1820.55,431.11 1822.95,431.17 1825.35,431.23 1827.76,431.28 1830.16,431.34 1832.56,431.39 1836.48,431.43" fill="none" stroke="#4b2b7f" stroke-width="2.2" stroke-linejoin="round"/>
<line x1="1546.3" y1="17" x2="1546.3" y2="437" stroke="#7d7d7d" stroke-width="2.6" stroke-dasharray="9 6"/>
<line x1="1736.1" y1="321" x2="1734.5" y2="92" stroke="#858585" stroke-width="3.6"/>
<polygon points="1734.2,72.5 1740.9,95.5 1727.7,95.5" fill="#858585"/>
<text x="1719" y="67.6" font-size="26.5">7 v</text>
<text x="1719" y="347.4" font-size="26.5">3 v</text>
<rect x="1306.8" y="15" width="527.2" height="424.4" fill="none" stroke="#000" stroke-width="3.4"/>
<line x1="1354.18" y1="439.4" x2="1354.18" y2="447.9" stroke="#000" stroke-width="3"/>
<text x="1354.18" y="485.3" font-size="27.8" text-anchor="middle">480</text>
<line x1="1450.24" y1="439.4" x2="1450.24" y2="447.9" stroke="#000" stroke-width="3"/>
<text x="1450.24" y="485.3" font-size="27.8" text-anchor="middle">500</text>
<line x1="1546.3" y1="439.4" x2="1546.3" y2="447.9" stroke="#000" stroke-width="3"/>
<text x="1546.3" y="485.3" font-size="27.8" text-anchor="middle">520</text>
<line x1="1642.36" y1="439.4" x2="1642.36" y2="447.9" stroke="#000" stroke-width="3"/>
<text x="1642.36" y="485.3" font-size="27.8" text-anchor="middle">540</text>
<line x1="1738.42" y1="439.4" x2="1738.42" y2="447.9" stroke="#000" stroke-width="3"/>
<text x="1738.42" y="485.3" font-size="27.8" text-anchor="middle">560</text>
<line x1="1834.48" y1="439.4" x2="1834.48" y2="447.9" stroke="#000" stroke-width="3"/>
<text x="1834.48" y="485.3" font-size="27.8" text-anchor="middle">580</text>
<text x="1572.6" y="527.2" font-size="28" text-anchor="middle">Wavelength (nm)</text>
<text x="1281.2" y="202.8" font-size="28" text-anchor="middle" transform="rotate(-90 1281.2 202.8)">EL intensity (a.u.)</text>
</g>
<g id="pd">
<defs><clipPath id="dclip"><rect x="123.2" y="606.7" width="423.4" height="361.9"/></clipPath></defs>
<g clip-path="url(#dclip)">
<polyline points="134.81,885.7 146.92,868.2 159.03,855.7 171.14,845.6 183.25,837 195.36,830.8 207.47,823.5 219.58,817.5 231.69,812.3 243.8,806.9 255.91,802 268.02,797.2 280.13,786.6 292.24,763.1 304.35,734.6 316.46,712 328.57,698 340.68,686 352.79,677 364.9,668.5 377.01,662 389.12,656 401.23,650 413.34,644.5 425.45,639.5 437.56,634 449.67,629.5 461.78,625.5 473.89,621.8 486,619 498.11,616.2 510.22,613.8 522.33,611.7 534.44,610 546.55,608.4" fill="none" stroke="#2e3192" stroke-width="1.6" stroke-linejoin="round"/>
<circle cx="134.81" cy="885.7" r="5.3" fill="#2e3192"/>
<circle cx="146.92" cy="868.2" r="5.3" fill="#2e3192"/>
<circle cx="159.03" cy="855.7" r="5.3" fill="#2e3192"/>
<circle cx="171.14" cy="845.6" r="5.3" fill="#2e3192"/>
<circle cx="183.25" cy="837" r="5.3" fill="#2e3192"/>
<circle cx="195.36" cy="830.8" r="5.3" fill="#2e3192"/>
<circle cx="207.47" cy="823.5" r="5.3" fill="#2e3192"/>
<circle cx="219.58" cy="817.5" r="5.3" fill="#2e3192"/>
<circle cx="231.69" cy="812.3" r="5.3" fill="#2e3192"/>
<circle cx="243.8" cy="806.9" r="5.3" fill="#2e3192"/>
<circle cx="255.91" cy="802" r="5.3" fill="#2e3192"/>
<circle cx="268.02" cy="797.2" r="5.3" fill="#2e3192"/>
<circle cx="280.13" cy="786.6" r="5.3" fill="#2e3192"/>
<circle cx="292.24" cy="763.1" r="5.3" fill="#2e3192"/>
<circle cx="304.35" cy="734.6" r="5.3" fill="#2e3192"/>
<circle cx="316.46" cy="712" r="5.3" fill="#2e3192"/>
<circle cx="328.57" cy="698" r="5.3" fill="#2e3192"/>
<circle cx="340.68" cy="686" r="5.3" fill="#2e3192"/>
<circle cx="352.79" cy="677" r="5.3" fill="#2e3192"/>
<circle cx="364.9" cy="668.5" r="5.3" fill="#2e3192"/>
<circle cx="377.01" cy="662" r="5.3" fill="#2e3192"/>
<circle cx="389.12" cy="656" r="5.3" fill="#2e3192"/>
<circle cx="401.23" cy="650" r="5.3" fill="#2e3192"/>
<circle cx="413.34" cy="644.5" r="5.3" fill="#2e3192"/>
<circle cx="425.45" cy="639.5" r="5.3" fill="#2e3192"/>
<circle cx="437.56" cy="634" r="5.3" fill="#2e3192"/>
<circle cx="449.67" cy="629.5" r="5.3" fill="#2e3192"/>
<circle cx="461.78" cy="625.5" r="5.3" fill="#2e3192"/>
<circle cx="473.89" cy="621.8" r="5.3" fill="#2e3192"/>
<circle cx="486" cy="619" r="5.3" fill="#2e3192"/>
<circle cx="498.11" cy="616.2" r="5.3" fill="#2e3192"/>
<circle cx="510.22" cy="613.8" r="5.3" fill="#2e3192"/>
<circle cx="522.33" cy="611.7" r="5.3" fill="#2e3192"/>
<circle cx="534.44" cy="610" r="5.3" fill="#2e3192"/>
<circle cx="546.55" cy="608.4" r="5.3" fill="#2e3192"/>
</g>
<g clip-path="url(#dclip)">
<polyline points="134.81,896.8 146.92,880.9 159.03,871.1 171.14,861.7 183.25,853.2 195.36,844.8 207.47,838.1 219.58,833.3 231.69,828.5 243.8,823.7 255.91,818.8 268.02,813.4 280.13,795.2 292.24,760.6 304.35,729.7 316.46,709.7 328.57,695.3 340.68,683.6 352.79,674 364.9,666 377.01,659.6 389.12,653.7 401.23,647.7 413.34,642.4 425.45,637.6 437.56,632.8 449.67,628.8 461.78,625.1 473.89,621.6 486,618.7 498.11,616 510.22,613.6 522.33,611.5 534.44,609.9 546.55,608.3" fill="none" stroke="#56b995" stroke-width="1.6" stroke-linejoin="round"/>
<circle cx="134.81" cy="896.8" r="5.3" fill="#56b995"/>
<circle cx="146.92" cy="880.9" r="5.3" fill="#56b995"/>
<circle cx="159.03" cy="871.1" r="5.3" fill="#56b995"/>
<circle cx="171.14" cy="861.7" r="5.3" fill="#56b995"/>
<circle cx="183.25" cy="853.2" r="5.3" fill="#56b995"/>
<circle cx="195.36" cy="844.8" r="5.3" fill="#56b995"/>
<circle cx="207.47" cy="838.1" r="5.3" fill="#56b995"/>
<circle cx="219.58" cy="833.3" r="5.3" fill="#56b995"/>
<circle cx="231.69" cy="828.5" r="5.3" fill="#56b995"/>
<circle cx="243.8" cy="823.7" r="5.3" fill="#56b995"/>
<circle cx="255.91" cy="818.8" r="5.3" fill="#56b995"/>
<circle cx="268.02" cy="813.4" r="5.3" fill="#56b995"/>
<circle cx="280.13" cy="795.2" r="5.3" fill="#56b995"/>
<circle cx="292.24" cy="760.6" r="5.3" fill="#56b995"/>
<circle cx="304.35" cy="729.7" r="5.3" fill="#56b995"/>
<circle cx="316.46" cy="709.7" r="5.3" fill="#56b995"/>
<circle cx="328.57" cy="695.3" r="5.3" fill="#56b995"/>
<circle cx="340.68" cy="683.6" r="5.3" fill="#56b995"/>
<circle cx="352.79" cy="674" r="5.3" fill="#56b995"/>
<circle cx="364.9" cy="666" r="5.3" fill="#56b995"/>
<circle cx="377.01" cy="659.6" r="5.3" fill="#56b995"/>
<circle cx="389.12" cy="653.7" r="5.3" fill="#56b995"/>
<circle cx="401.23" cy="647.7" r="5.3" fill="#56b995"/>
<circle cx="413.34" cy="642.4" r="5.3" fill="#56b995"/>
<circle cx="425.45" cy="637.6" r="5.3" fill="#56b995"/>
<circle cx="437.56" cy="632.8" r="5.3" fill="#56b995"/>
<circle cx="449.67" cy="628.8" r="5.3" fill="#56b995"/>
<circle cx="461.78" cy="625.1" r="5.3" fill="#56b995"/>
<circle cx="473.89" cy="621.6" r="5.3" fill="#56b995"/>
<circle cx="486" cy="618.7" r="5.3" fill="#56b995"/>
<circle cx="498.11" cy="616" r="5.3" fill="#56b995"/>
<circle cx="510.22" cy="613.6" r="5.3" fill="#56b995"/>
<circle cx="522.33" cy="611.5" r="5.3" fill="#56b995"/>
<circle cx="534.44" cy="609.9" r="5.3" fill="#56b995"/>
<circle cx="546.55" cy="608.3" r="5.3" fill="#56b995"/>
</g>
<g clip-path="url(#dclip)">
<polyline points="134.81,906.9 146.92,895.2 159.03,887 171.14,882.2 183.25,877.6 195.36,873.5 207.47,870.6 219.58,867.4 231.69,864.3 243.8,861.7 255.91,858.1 268.02,841.9 280.13,800.4 292.24,758.6 304.35,732.6 316.46,715 328.57,702.5 340.68,692.6 352.79,683.3 364.9,675 377.01,668.6 389.12,662.5 401.23,657.3 413.34,652.9 425.45,648.9 437.56,645.6 449.67,642.1 461.78,638.8 473.89,635.6 486,632.8 498.11,630 510.22,626.9 522.33,624.5 534.44,622.1 546.55,620" fill="none" stroke="#c21553" stroke-width="1.6" stroke-linejoin="round"/>
<circle cx="134.81" cy="906.9" r="5.3" fill="#c21553"/>
<circle cx="146.92" cy="895.2" r="5.3" fill="#c21553"/>
<circle cx="159.03" cy="887" r="5.3" fill="#c21553"/>
<circle cx="171.14" cy="882.2" r="5.3" fill="#c21553"/>
<circle cx="183.25" cy="877.6" r="5.3" fill="#c21553"/>
<circle cx="195.36" cy="873.5" r="5.3" fill="#c21553"/>
<circle cx="207.47" cy="870.6" r="5.3" fill="#c21553"/>
<circle cx="219.58" cy="867.4" r="5.3" fill="#c21553"/>
<circle cx="231.69" cy="864.3" r="5.3" fill="#c21553"/>
<circle cx="243.8" cy="861.7" r="5.3" fill="#c21553"/>
<circle cx="255.91" cy="858.1" r="5.3" fill="#c21553"/>
<circle cx="268.02" cy="841.9" r="5.3" fill="#c21553"/>
<circle cx="280.13" cy="800.4" r="5.3" fill="#c21553"/>
<circle cx="292.24" cy="758.6" r="5.3" fill="#c21553"/>
<circle cx="304.35" cy="732.6" r="5.3" fill="#c21553"/>
<circle cx="316.46" cy="715" r="5.3" fill="#c21553"/>
<circle cx="328.57" cy="702.5" r="5.3" fill="#c21553"/>
<circle cx="340.68" cy="692.6" r="5.3" fill="#c21553"/>
<circle cx="352.79" cy="683.3" r="5.3" fill="#c21553"/>
<circle cx="364.9" cy="675" r="5.3" fill="#c21553"/>
<circle cx="377.01" cy="668.6" r="5.3" fill="#c21553"/>
<circle cx="389.12" cy="662.5" r="5.3" fill="#c21553"/>
<circle cx="401.23" cy="657.3" r="5.3" fill="#c21553"/>
<circle cx="413.34" cy="652.9" r="5.3" fill="#c21553"/>
<circle cx="425.45" cy="648.9" r="5.3" fill="#c21553"/>
<circle cx="437.56" cy="645.6" r="5.3" fill="#c21553"/>
<circle cx="449.67" cy="642.1" r="5.3" fill="#c21553"/>
<circle cx="461.78" cy="638.8" r="5.3" fill="#c21553"/>
<circle cx="473.89" cy="635.6" r="5.3" fill="#c21553"/>
<circle cx="486" cy="632.8" r="5.3" fill="#c21553"/>
<circle cx="498.11" cy="630" r="5.3" fill="#c21553"/>
<circle cx="510.22" cy="626.9" r="5.3" fill="#c21553"/>
<circle cx="522.33" cy="624.5" r="5.3" fill="#c21553"/>
<circle cx="534.44" cy="622.1" r="5.3" fill="#c21553"/>
<circle cx="546.55" cy="620" r="5.3" fill="#c21553"/>
</g>
<g clip-path="url(#dclip)">
<polyline points="268.02,1038.6 280.13,935.3 292.24,859.7 304.35,816.2 316.46,792.2 328.57,776.2 340.68,764.2 352.79,753 364.9,742.6 377.01,733.4 389.12,725.7 401.23,718.5 413.34,712.1 425.45,705.7 437.56,700.1 449.67,695.3 461.78,691.8 473.89,687.3 486,684.1 498.11,681.7 510.22,679.3 522.33,677.5 534.44,675.5 546.55,673.5" fill="none" stroke="#2e3192" stroke-width="1.6" stroke-linejoin="round"/>
<circle cx="280.13" cy="935.3" r="5.3" fill="#2e3192"/>
<circle cx="292.24" cy="859.7" r="5.3" fill="#2e3192"/>
<circle cx="304.35" cy="816.2" r="5.3" fill="#2e3192"/>
<circle cx="316.46" cy="792.2" r="5.3" fill="#2e3192"/>
<circle cx="328.57" cy="776.2" r="5.3" fill="#2e3192"/>
<circle cx="340.68" cy="764.2" r="5.3" fill="#2e3192"/>
<circle cx="352.79" cy="753" r="5.3" fill="#2e3192"/>
<circle cx="364.9" cy="742.6" r="5.3" fill="#2e3192"/>
<circle cx="377.01" cy="733.4" r="5.3" fill="#2e3192"/>
<circle cx="389.12" cy="725.7" r="5.3" fill="#2e3192"/>
<circle cx="401.23" cy="718.5" r="5.3" fill="#2e3192"/>
<circle cx="413.34" cy="712.1" r="5.3" fill="#2e3192"/>
<circle cx="425.45" cy="705.7" r="5.3" fill="#2e3192"/>
<circle cx="437.56" cy="700.1" r="5.3" fill="#2e3192"/>
<circle cx="449.67" cy="695.3" r="5.3" fill="#2e3192"/>
<circle cx="461.78" cy="691.8" r="5.3" fill="#2e3192"/>
<circle cx="473.89" cy="687.3" r="5.3" fill="#2e3192"/>
<circle cx="486" cy="684.1" r="5.3" fill="#2e3192"/>
<circle cx="498.11" cy="681.7" r="5.3" fill="#2e3192"/>
<circle cx="510.22" cy="679.3" r="5.3" fill="#2e3192"/>
<circle cx="522.33" cy="677.5" r="5.3" fill="#2e3192"/>
<circle cx="534.44" cy="675.5" r="5.3" fill="#2e3192"/>
<circle cx="546.55" cy="673.5" r="5.3" fill="#2e3192"/>
</g>
<g clip-path="url(#dclip)">
<polyline points="268.02,1010.8 280.13,906.9 292.24,838.6 304.35,797 316.46,770.6 328.57,752.2 340.68,736.1 352.79,725.7 364.9,716.9 377.01,709.7 389.12,703.3 401.23,697.4 413.34,692.6 425.45,688.1 437.56,684.1 449.67,680.9 461.78,678 473.89,675 486,672.4 498.11,670 510.22,667.6 522.33,665.4 534.44,663.6 546.55,662.1" fill="none" stroke="#56b995" stroke-width="1.6" stroke-linejoin="round"/>
<circle cx="280.13" cy="906.9" r="5.3" fill="#56b995"/>
<circle cx="292.24" cy="838.6" r="5.3" fill="#56b995"/>
<circle cx="304.35" cy="797" r="5.3" fill="#56b995"/>
<circle cx="316.46" cy="770.6" r="5.3" fill="#56b995"/>
<circle cx="328.57" cy="752.2" r="5.3" fill="#56b995"/>
<circle cx="340.68" cy="736.1" r="5.3" fill="#56b995"/>
<circle cx="352.79" cy="725.7" r="5.3" fill="#56b995"/>
<circle cx="364.9" cy="716.9" r="5.3" fill="#56b995"/>
<circle cx="377.01" cy="709.7" r="5.3" fill="#56b995"/>
<circle cx="389.12" cy="703.3" r="5.3" fill="#56b995"/>
<circle cx="401.23" cy="697.4" r="5.3" fill="#56b995"/>
<circle cx="413.34" cy="692.6" r="5.3" fill="#56b995"/>
<circle cx="425.45" cy="688.1" r="5.3" fill="#56b995"/>
<circle cx="437.56" cy="684.1" r="5.3" fill="#56b995"/>
<circle cx="449.67" cy="680.9" r="5.3" fill="#56b995"/>
<circle cx="461.78" cy="678" r="5.3" fill="#56b995"/>
<circle cx="473.89" cy="675" r="5.3" fill="#56b995"/>
<circle cx="486" cy="672.4" r="5.3" fill="#56b995"/>
<circle cx="498.11" cy="670" r="5.3" fill="#56b995"/>
<circle cx="510.22" cy="667.6" r="5.3" fill="#56b995"/>
<circle cx="522.33" cy="665.4" r="5.3" fill="#56b995"/>
<circle cx="534.44" cy="663.6" r="5.3" fill="#56b995"/>
<circle cx="546.55" cy="662.1" r="5.3" fill="#56b995"/>
</g>
<g clip-path="url(#dclip)">
<polyline points="268.02,966.2 280.13,874.4 292.24,817 304.35,784.2 316.46,764.2 328.57,749.8 340.68,738.5 352.79,730 364.9,722.5 377.01,716.1 389.12,710.5 401.23,705.2 413.34,701.2 425.45,698.5 437.56,694.5 449.67,691.8 461.78,689.7 473.89,687 486,684.1 498.11,681.7 510.22,679.3 522.33,677.7 534.44,676.1 546.55,674.5" fill="none" stroke="#c21553" stroke-width="1.6" stroke-linejoin="round"/>
<circle cx="268.02" cy="966.2" r="5.3" fill="#c21553"/>
<circle cx="280.13" cy="874.4" r="5.3" fill="#c21553"/>
<circle cx="292.24" cy="817" r="5.3" fill="#c21553"/>
<circle cx="304.35" cy="784.2" r="5.3" fill="#c21553"/>
<circle cx="316.46" cy="764.2" r="5.3" fill="#c21553"/>
<circle cx="328.57" cy="749.8" r="5.3" fill="#c21553"/>
<circle cx="340.68" cy="738.5" r="5.3" fill="#c21553"/>
<circle cx="352.79" cy="730" r="5.3" fill="#c21553"/>
<circle cx="364.9" cy="722.5" r="5.3" fill="#c21553"/>
<circle cx="377.01" cy="716.1" r="5.3" fill="#c21553"/>
<circle cx="389.12" cy="710.5" r="5.3" fill="#c21553"/>
<circle cx="401.23" cy="705.2" r="5.3" fill="#c21553"/>
<circle cx="413.34" cy="701.2" r="5.3" fill="#c21553"/>
<circle cx="425.45" cy="698.5" r="5.3" fill="#c21553"/>
<circle cx="437.56" cy="694.5" r="5.3" fill="#c21553"/>
<circle cx="449.67" cy="691.8" r="5.3" fill="#c21553"/>
<circle cx="461.78" cy="689.7" r="5.3" fill="#c21553"/>
<circle cx="473.89" cy="687" r="5.3" fill="#c21553"/>
<circle cx="486" cy="684.1" r="5.3" fill="#c21553"/>
<circle cx="498.11" cy="681.7" r="5.3" fill="#c21553"/>
<circle cx="510.22" cy="679.3" r="5.3" fill="#c21553"/>
<circle cx="522.33" cy="677.7" r="5.3" fill="#c21553"/>
<circle cx="534.44" cy="676.1" r="5.3" fill="#c21553"/>
<circle cx="546.55" cy="674.5" r="5.3" fill="#c21553"/>
</g>
<circle cx="188.5" cy="856.5" r="30" fill="none" stroke="#8a8a8a" stroke-width="2.2" stroke-dasharray="8 6"/>
<circle cx="283.5" cy="893" r="30.5" fill="none" stroke="#8a8a8a" stroke-width="2.2" stroke-dasharray="8 6"/>
<line x1="188.5" y1="827.2" x2="136" y2="828.1" stroke="#8a8a8a" stroke-width="2.2"/>
<polygon points="125.5,828.3 138,823.6 138,832.8" fill="#8a8a8a"/>
<line x1="318.9" y1="888.9" x2="371" y2="887.3" stroke="#8a8a8a" stroke-width="2.2"/>
<polygon points="381.5,887.1 369,882.4 369,891.8" fill="#8a8a8a"/>
<rect x="123.2" y="606.7" width="423.4" height="361.9" fill="none" stroke="#000" stroke-width="2.6"/>
<line x1="115.7" y1="923.2" x2="123.2" y2="923.2" stroke="#000" stroke-width="2.6"/>
<text x="104.6" y="935.2" font-size="26.8" text-anchor="end">10<tspan font-size="18" dy="-12.2">–4</tspan></text>
<line x1="115.7" y1="877.7" x2="123.2" y2="877.7" stroke="#000" stroke-width="2.6"/>
<text x="104.6" y="889.7" font-size="26.8" text-anchor="end">10<tspan font-size="18" dy="-12.2">–3</tspan></text>
<line x1="115.7" y1="832.2" x2="123.2" y2="832.2" stroke="#000" stroke-width="2.6"/>
<text x="104.6" y="844.2" font-size="26.8" text-anchor="end">10<tspan font-size="18" dy="-12.2">–2</tspan></text>
<line x1="115.7" y1="786.7" x2="123.2" y2="786.7" stroke="#000" stroke-width="2.6"/>
<text x="104.6" y="798.7" font-size="26.8" text-anchor="end">10<tspan font-size="18" dy="-12.2">–1</tspan></text>
<line x1="115.7" y1="741.2" x2="123.2" y2="741.2" stroke="#000" stroke-width="2.6"/>
<text x="104.6" y="753.2" font-size="26.8" text-anchor="end">10<tspan font-size="18" dy="-12.2">0</tspan></text>
<line x1="115.7" y1="695.7" x2="123.2" y2="695.7" stroke="#000" stroke-width="2.6"/>
<text x="104.6" y="707.7" font-size="26.8" text-anchor="end">10<tspan font-size="18" dy="-12.2">1</tspan></text>
<line x1="115.7" y1="650.2" x2="123.2" y2="650.2" stroke="#000" stroke-width="2.6"/>
<text x="104.6" y="662.2" font-size="26.8" text-anchor="end">10<tspan font-size="18" dy="-12.2">2</tspan></text>
<line x1="546.6" y1="968.4" x2="554.6" y2="968.4" stroke="#000" stroke-width="2.6"/>
<text x="563.5" y="980.4" font-size="26.8">10<tspan font-size="18" dy="-12.2">0</tspan></text>
<line x1="546.6" y1="908.05" x2="554.6" y2="908.05" stroke="#000" stroke-width="2.6"/>
<text x="563.5" y="920.05" font-size="26.8">10<tspan font-size="18" dy="-12.2">1</tspan></text>
<line x1="546.6" y1="847.7" x2="554.6" y2="847.7" stroke="#000" stroke-width="2.6"/>
<text x="563.5" y="859.7" font-size="26.8">10<tspan font-size="18" dy="-12.2">2</tspan></text>
<line x1="546.6" y1="787.35" x2="554.6" y2="787.35" stroke="#000" stroke-width="2.6"/>
<text x="563.5" y="799.35" font-size="26.8">10<tspan font-size="18" dy="-12.2">3</tspan></text>
<line x1="546.6" y1="727" x2="554.6" y2="727" stroke="#000" stroke-width="2.6"/>
<text x="563.5" y="739" font-size="26.8">10<tspan font-size="18" dy="-12.2">4</tspan></text>
<line x1="546.6" y1="666.65" x2="554.6" y2="666.65" stroke="#000" stroke-width="2.6"/>
<text x="563.5" y="678.65" font-size="26.8">10<tspan font-size="18" dy="-12.2">5</tspan></text>
<line x1="546.6" y1="606.3" x2="554.6" y2="606.3" stroke="#000" stroke-width="2.6"/>
<text x="563.5" y="618.3" font-size="26.8">10<tspan font-size="18" dy="-12.2">6</tspan></text>
<line x1="122.7" y1="968.6" x2="122.7" y2="975.6" stroke="#000" stroke-width="2.6"/>
<text x="122.7" y="1003" font-size="26.8" text-anchor="middle">0</text>
<line x1="243.8" y1="968.6" x2="243.8" y2="975.6" stroke="#000" stroke-width="2.6"/>
<text x="243.8" y="1003" font-size="26.8" text-anchor="middle">2</text>
<line x1="364.9" y1="968.6" x2="364.9" y2="975.6" stroke="#000" stroke-width="2.6"/>
<text x="364.9" y="1003" font-size="26.8" text-anchor="middle">4</text>
<line x1="486" y1="968.6" x2="486" y2="975.6" stroke="#000" stroke-width="2.6"/>
<text x="486" y="1003" font-size="26.8" text-anchor="middle">6</text>
<line x1="127.5" y1="626.7" x2="152.8" y2="626.7" stroke="#2e3192" stroke-width="3.4" stroke-linecap="round"/>
<circle cx="139.9" cy="626.7" r="5.9" fill="#2e3192"/>
<line x1="127.5" y1="664.4" x2="152.8" y2="664.4" stroke="#56b995" stroke-width="3.4" stroke-linecap="round"/>
<circle cx="139.9" cy="664.4" r="5.9" fill="#56b995"/>
<line x1="127.5" y1="696.8" x2="152.8" y2="696.8" stroke="#c21553" stroke-width="3.4" stroke-linecap="round"/>
<circle cx="139.9" cy="696.8" r="5.9" fill="#c21553"/>
<text x="163.6" y="634.7" font-size="23.8">Control</text>
<text x="163.6" y="672.4" font-size="23.8">[BMIM]OTF–3</text>
<text x="163.6" y="704.8" font-size="23.8">[BMIM]OTF–3</text>
<text x="163.6" y="741.8" font-size="23.8">(w/LiBr)</text>
<text x="335.7" y="1042" font-size="28" text-anchor="middle">Voltage (V)</text>
<text x="34.5" y="788.5" font-size="28" text-anchor="middle" transform="rotate(-90 34.5 788.5)">Current density (mA/cm<tspan font-size="18" dy="-12">2</tspan><tspan dy="12">)</tspan></text>
<text x="645" y="788.2" font-size="28" text-anchor="middle" transform="rotate(-90 645 788.2)">Luminance (cd/m<tspan font-size="18" dy="-12">2</tspan><tspan dy="12">)</tspan></text>
</g>
<g id="pe">
<defs><clipPath id="eclip"><rect x="780.7" y="597.5" width="460.1" height="370.7"/></clipPath></defs>
<g clip-path="url(#eclip)">
<polyline points="783,966.2 795.6,966.2 816.1,950.7 872.7,886.1 931.3,857.3 971.7,856.7 999.2,861.3 1021.3,866.9 1042.2,876.2 1063,883.5 1080.3,889.4 1096.8,894.4 1110.7,898.7 1124,901 1135.5,902 1146.5,907 1156.4,909.3 1164.7,912 1173,914.3 1181.2,916.2 1187.8,918.2 1194.4,920.9 1200,923.5 1206,926.8" fill="none" stroke="#2e3192" stroke-width="1.6" stroke-linejoin="round"/>
<circle cx="783" cy="966.2" r="5.9" fill="#2e3192"/>
<circle cx="795.6" cy="966.2" r="5.9" fill="#2e3192"/>
<circle cx="816.1" cy="950.7" r="5.9" fill="#2e3192"/>
<circle cx="872.7" cy="886.1" r="5.9" fill="#2e3192"/>
<circle cx="931.3" cy="857.3" r="7.9" fill="#2e3192"/>
<circle cx="971.7" cy="856.7" r="5.9" fill="#2e3192"/>
<circle cx="999.2" cy="861.3" r="5.9" fill="#2e3192"/>
<circle cx="1021.3" cy="866.9" r="5.9" fill="#2e3192"/>
<circle cx="1042.2" cy="876.2" r="5.9" fill="#2e3192"/>
<circle cx="1063" cy="883.5" r="5.9" fill="#2e3192"/>
<circle cx="1080.3" cy="889.4" r="5.9" fill="#2e3192"/>
<circle cx="1096.8" cy="894.4" r="5.9" fill="#2e3192"/>
<circle cx="1110.7" cy="898.7" r="5.9" fill="#2e3192"/>
<circle cx="1124" cy="901" r="5.9" fill="#2e3192"/>
<circle cx="1135.5" cy="902" r="5.9" fill="#2e3192"/>
<circle cx="1146.5" cy="907" r="5.9" fill="#2e3192"/>
<circle cx="1156.4" cy="909.3" r="5.9" fill="#2e3192"/>
<circle cx="1164.7" cy="912" r="5.9" fill="#2e3192"/>
<circle cx="1173" cy="914.3" r="5.9" fill="#2e3192"/>
<circle cx="1181.2" cy="916.2" r="5.9" fill="#2e3192"/>
<circle cx="1187.8" cy="918.2" r="5.9" fill="#2e3192"/>
<circle cx="1194.4" cy="920.9" r="5.9" fill="#2e3192"/>
<circle cx="1200" cy="923.5" r="5.9" fill="#2e3192"/>
<circle cx="1206" cy="926.8" r="5.9" fill="#2e3192"/>
</g>
<g clip-path="url(#eclip)">
<polyline points="780.7,892.7 819.7,837.1 884.9,781.9 934.6,753.7 972,759.7 999.8,759.7 1023,771.3 1043.8,780.2 1064.4,792.4 1080.3,802.7 1096.8,812.6 1113.3,830.8 1125.6,843.1 1137.5,855.3 1149.1,867.3 1159,877.8 1168.6,884.5 1176.9,889.8 1185.2,893.7 1192.8,897.7 1199.4,901 1202.7,904.3" fill="none" stroke="#56b995" stroke-width="1.6" stroke-linejoin="round"/>
<circle cx="819.7" cy="837.1" r="5.9" fill="#56b995"/>
<circle cx="884.9" cy="781.9" r="5.9" fill="#56b995"/>
<circle cx="934.6" cy="753.7" r="7.9" fill="#56b995"/>
<circle cx="972" cy="759.7" r="5.9" fill="#56b995"/>
<circle cx="999.8" cy="759.7" r="5.9" fill="#56b995"/>
<circle cx="1023" cy="771.3" r="5.9" fill="#56b995"/>
<circle cx="1043.8" cy="780.2" r="5.9" fill="#56b995"/>
<circle cx="1064.4" cy="792.4" r="5.9" fill="#56b995"/>
<circle cx="1080.3" cy="802.7" r="5.9" fill="#56b995"/>
<circle cx="1096.8" cy="812.6" r="5.9" fill="#56b995"/>
<circle cx="1113.3" cy="830.8" r="5.9" fill="#56b995"/>
<circle cx="1125.6" cy="843.1" r="5.9" fill="#56b995"/>
<circle cx="1137.5" cy="855.3" r="5.9" fill="#56b995"/>
<circle cx="1149.1" cy="867.3" r="5.9" fill="#56b995"/>
<circle cx="1159" cy="877.8" r="5.9" fill="#56b995"/>
<circle cx="1168.6" cy="884.5" r="5.9" fill="#56b995"/>
<circle cx="1176.9" cy="889.8" r="5.9" fill="#56b995"/>
<circle cx="1185.2" cy="893.7" r="5.9" fill="#56b995"/>
<circle cx="1192.8" cy="897.7" r="5.9" fill="#56b995"/>
<circle cx="1199.4" cy="901" r="5.9" fill="#56b995"/>
<circle cx="1202.7" cy="904.3" r="5.9" fill="#56b995"/>
</g>
<g clip-path="url(#eclip)">
<polyline points="780.7,695.8 788,680.9 879,658.4 935.6,687.5 973.7,715.6 1000.8,738.8 1023.3,764.6 1041.5,782.8 1058.7,802.4 1073,815.6 1085.9,827.5 1096.8,838.1 1106.7,848 1115.7,858 1124.3,865.6 1132.2,871.9 1139.8,877.8 1146.5,882.8 1154.1,888.4 1161.3,893.7 1168,898.4 1173.6,902.7 1178.9,906" fill="none" stroke="#c21553" stroke-width="1.6" stroke-linejoin="round"/>
<circle cx="788" cy="680.9" r="5.9" fill="#c21553"/>
<circle cx="879" cy="658.4" r="7.9" fill="#c21553"/>
<circle cx="935.6" cy="687.5" r="5.9" fill="#c21553"/>
<circle cx="973.7" cy="715.6" r="5.9" fill="#c21553"/>
<circle cx="1000.8" cy="738.8" r="5.9" fill="#c21553"/>
<circle cx="1023.3" cy="764.6" r="5.9" fill="#c21553"/>
<circle cx="1041.5" cy="782.8" r="5.9" fill="#c21553"/>
<circle cx="1058.7" cy="802.4" r="5.9" fill="#c21553"/>
<circle cx="1073" cy="815.6" r="5.9" fill="#c21553"/>
<circle cx="1085.9" cy="827.5" r="5.9" fill="#c21553"/>
<circle cx="1096.8" cy="838.1" r="5.9" fill="#c21553"/>
<circle cx="1106.7" cy="848" r="5.9" fill="#c21553"/>
<circle cx="1115.7" cy="858" r="5.9" fill="#c21553"/>
<circle cx="1124.3" cy="865.6" r="5.9" fill="#c21553"/>
<circle cx="1132.2" cy="871.9" r="5.9" fill="#c21553"/>
<circle cx="1139.8" cy="877.8" r="5.9" fill="#c21553"/>
<circle cx="1146.5" cy="882.8" r="5.9" fill="#c21553"/>
<circle cx="1154.1" cy="888.4" r="5.9" fill="#c21553"/>
<circle cx="1161.3" cy="893.7" r="5.9" fill="#c21553"/>
<circle cx="1168" cy="898.4" r="5.9" fill="#c21553"/>
<circle cx="1173.6" cy="902.7" r="5.9" fill="#c21553"/>
<circle cx="1178.9" cy="906" r="5.9" fill="#c21553"/>
</g>
<rect x="780.7" y="597.5" width="460.1" height="370.7" fill="none" stroke="#000" stroke-width="3"/>
<line x1="773.2" y1="968.2" x2="780.7" y2="968.2" stroke="#000" stroke-width="2.6"/>
<line x1="776.2" y1="931.12" x2="780.7" y2="931.12" stroke="#000" stroke-width="2.2"/>
<line x1="773.2" y1="894.05" x2="780.7" y2="894.05" stroke="#000" stroke-width="2.6"/>
<text x="760.8" y="903.35" font-size="26.8" text-anchor="end">5</text>
<line x1="776.2" y1="856.98" x2="780.7" y2="856.98" stroke="#000" stroke-width="2.2"/>
<line x1="773.2" y1="819.9" x2="780.7" y2="819.9" stroke="#000" stroke-width="2.6"/>
<text x="760.8" y="829.2" font-size="26.8" text-anchor="end">10</text>
<line x1="776.2" y1="782.83" x2="780.7" y2="782.83" stroke="#000" stroke-width="2.2"/>
<line x1="773.2" y1="745.75" x2="780.7" y2="745.75" stroke="#000" stroke-width="2.6"/>
<text x="760.8" y="755.05" font-size="26.8" text-anchor="end">15</text>
<line x1="776.2" y1="708.68" x2="780.7" y2="708.68" stroke="#000" stroke-width="2.2"/>
<line x1="773.2" y1="671.6" x2="780.7" y2="671.6" stroke="#000" stroke-width="2.6"/>
<text x="760.8" y="680.9" font-size="26.8" text-anchor="end">20</text>
<line x1="776.2" y1="634.53" x2="780.7" y2="634.53" stroke="#000" stroke-width="2.2"/>
<line x1="773.2" y1="597.45" x2="780.7" y2="597.45" stroke="#000" stroke-width="2.6"/>
<text x="760.8" y="606.75" font-size="26.8" text-anchor="end">25</text>
<line x1="818.7" y1="968.2" x2="818.7" y2="975.7" stroke="#000" stroke-width="2.6"/>
<text x="818.7" y="1013.6" font-size="26.8" text-anchor="middle">10<tspan font-size="18" dy="-12.2">–1</tspan></text>
<line x1="916.95" y1="968.2" x2="916.95" y2="975.7" stroke="#000" stroke-width="2.6"/>
<text x="916.95" y="1013.6" font-size="26.8" text-anchor="middle">10<tspan font-size="18" dy="-12.2">0</tspan></text>
<line x1="1015.2" y1="968.2" x2="1015.2" y2="975.7" stroke="#000" stroke-width="2.6"/>
<text x="1015.2" y="1013.6" font-size="26.8" text-anchor="middle">10<tspan font-size="18" dy="-12.2">1</tspan></text>
<line x1="1113.45" y1="968.2" x2="1113.45" y2="975.7" stroke="#000" stroke-width="2.6"/>
<text x="1113.45" y="1013.6" font-size="26.8" text-anchor="middle">10<tspan font-size="18" dy="-12.2">2</tspan></text>
<line x1="1211.7" y1="968.2" x2="1211.7" y2="975.7" stroke="#000" stroke-width="2.6"/>
<text x="1211.7" y="1013.6" font-size="26.8" text-anchor="middle">10<tspan font-size="18" dy="-12.2">3</tspan></text>
<line x1="1034.5" y1="613" x2="1066.5" y2="613" stroke="#2e3192" stroke-width="3.4" stroke-linecap="round"/>
<circle cx="1049.8" cy="613" r="5.6" fill="#2e3192"/>
<line x1="1034.5" y1="651.1" x2="1066.5" y2="651.1" stroke="#56b995" stroke-width="3.4" stroke-linecap="round"/>
<circle cx="1049.8" cy="651.1" r="5.6" fill="#56b995"/>
<line x1="1034.5" y1="685.2" x2="1066.5" y2="685.2" stroke="#c21553" stroke-width="3.4" stroke-linecap="round"/>
<circle cx="1049.8" cy="685.2" r="5.6" fill="#c21553"/>
<text x="1079.6" y="621.3" font-size="23.8">Control</text>
<text x="1079.6" y="659.4" font-size="23.8">[BMIM]OTF–3</text>
<text x="1079.6" y="693.5" font-size="23.8">[BMIM]OTF–3</text>
<text x="1079.6" y="726.5" font-size="23.8">(w/LiBr)</text>
<text x="811.2" y="634.5" font-size="23.8">EQE<tspan font-size="16" dy="4.5">max</tspan><tspan dy="-4.5">=20.94%</tspan></text>
<text x="1010.7" y="1053.3" font-size="28" text-anchor="middle">Current density (mA/cm<tspan font-size="18" dy="-12">2</tspan><tspan dy="12">)</tspan></text>
<text x="707.3" y="782.7" font-size="28" text-anchor="middle" transform="rotate(-90 707.3 782.7)">EQE (%)</text>
</g>
<g id="pf">
<defs><clipPath id="fclip"><rect x="1397.5" y="593.9" width="451.6" height="368.8"/></clipPath></defs>
<g clip-path="url(#fclip)">
<polyline points="1397.5,866.2 1480.9,753.9 1570.9,731.3 1630.8,731 1674,734.3 1707.7,738.5 1740.1,745.1 1772.2,751 1798.4,756.5 1822.3,760.5 1844.2,765.7" fill="none" stroke="#2e3192" stroke-width="2.2" stroke-linejoin="round"/>
<circle cx="1397.5" cy="866.2" r="6.8" fill="#2e3192"/>
<circle cx="1480.9" cy="753.9" r="6.8" fill="#2e3192"/>
<circle cx="1570.9" cy="731.3" r="8.9" fill="#2e3192"/>
<circle cx="1630.8" cy="731" r="6.8" fill="#2e3192"/>
<circle cx="1674" cy="734.3" r="6.8" fill="#2e3192"/>
<circle cx="1707.7" cy="738.5" r="6.8" fill="#2e3192"/>
<circle cx="1740.1" cy="745.1" r="6.8" fill="#2e3192"/>
<circle cx="1772.2" cy="751" r="6.8" fill="#2e3192"/>
<circle cx="1798.4" cy="756.5" r="6.8" fill="#2e3192"/>
<circle cx="1822.3" cy="760.5" r="6.8" fill="#2e3192"/>
<circle cx="1844.2" cy="765.7" r="6.8" fill="#2e3192"/>
</g>
<g clip-path="url(#fclip)">
<polyline points="1400.7,732 1500.5,705.8 1575.2,695.3 1633.1,697.6 1674,697.6 1711,701.9 1743.4,704.8 1773.2,710.1 1798.4,714.7 1822.3,718.9 1845.8,727.7" fill="none" stroke="#56b995" stroke-width="2.2" stroke-linejoin="round"/>
<circle cx="1400.7" cy="732" r="6.8" fill="#56b995"/>
<circle cx="1500.5" cy="705.8" r="6.8" fill="#56b995"/>
<circle cx="1575.2" cy="695.3" r="8.9" fill="#56b995"/>
<circle cx="1633.1" cy="697.6" r="6.8" fill="#56b995"/>
<circle cx="1674" cy="697.6" r="6.8" fill="#56b995"/>
<circle cx="1711" cy="701.9" r="6.8" fill="#56b995"/>
<circle cx="1743.4" cy="704.8" r="6.8" fill="#56b995"/>
<circle cx="1773.2" cy="710.1" r="6.8" fill="#56b995"/>
<circle cx="1798.4" cy="714.7" r="6.8" fill="#56b995"/>
<circle cx="1822.3" cy="718.9" r="6.8" fill="#56b995"/>
<circle cx="1845.8" cy="727.7" r="6.8" fill="#56b995"/>
</g>
<g clip-path="url(#fclip)">
<polyline points="1397.5,645.3 1491.1,641.3 1576.8,648.5 1635.7,656.7 1676.6,663.9 1711,672.4 1739.5,679 1765.6,687.2 1786.9,693.4 1805.9,699.3 1822.9,704.8 1838.6,710.1 1849.1,717.3" fill="none" stroke="#c21553" stroke-width="2.2" stroke-linejoin="round"/>
<circle cx="1491.1" cy="641.3" r="8.9" fill="#c21553"/>
<circle cx="1576.8" cy="648.5" r="6.8" fill="#c21553"/>
<circle cx="1635.7" cy="656.7" r="6.8" fill="#c21553"/>
<circle cx="1676.6" cy="663.9" r="6.8" fill="#c21553"/>
<circle cx="1711" cy="672.4" r="6.8" fill="#c21553"/>
<circle cx="1739.5" cy="679" r="6.8" fill="#c21553"/>
<circle cx="1765.6" cy="687.2" r="6.8" fill="#c21553"/>
<circle cx="1786.9" cy="693.4" r="6.8" fill="#c21553"/>
<circle cx="1805.9" cy="699.3" r="6.8" fill="#c21553"/>
<circle cx="1822.9" cy="704.8" r="6.8" fill="#c21553"/>
<circle cx="1838.6" cy="710.1" r="6.8" fill="#c21553"/>
<circle cx="1849.1" cy="717.3" r="6.8" fill="#c21553"/>
</g>
<rect x="1397.5" y="593.9" width="451.6" height="368.8" fill="none" stroke="#000" stroke-width="3"/>
<line x1="1390" y1="962.7" x2="1397.5" y2="962.7" stroke="#000" stroke-width="2.6"/>
<text x="1381" y="971.7" font-size="26.8" text-anchor="end">10<tspan font-size="18" dy="-12.2">0</tspan></text>
<line x1="1390" y1="793.35" x2="1397.5" y2="793.35" stroke="#000" stroke-width="2.6"/>
<text x="1381" y="802.35" font-size="26.8" text-anchor="end">10<tspan font-size="18" dy="-12.2">1</tspan></text>
<line x1="1390" y1="624" x2="1397.5" y2="624" stroke="#000" stroke-width="2.6"/>
<text x="1381" y="633" font-size="26.8" text-anchor="end">10<tspan font-size="18" dy="-12.2">2</tspan></text>
<line x1="1397.5" y1="962.7" x2="1397.5" y2="970.2" stroke="#000" stroke-width="2.6"/>
<text x="1397.5" y="1006.9" font-size="26.8" text-anchor="middle">10<tspan font-size="18" dy="-12.2">–1</tspan></text>
<line x1="1548" y1="962.7" x2="1548" y2="970.2" stroke="#000" stroke-width="2.6"/>
<text x="1548" y="1006.9" font-size="26.8" text-anchor="middle">10<tspan font-size="18" dy="-12.2">0</tspan></text>
<line x1="1698.5" y1="962.7" x2="1698.5" y2="970.2" stroke="#000" stroke-width="2.6"/>
<text x="1698.5" y="1006.9" font-size="26.8" text-anchor="middle">10<tspan font-size="18" dy="-12.2">1</tspan></text>
<line x1="1849" y1="962.7" x2="1849" y2="970.2" stroke="#000" stroke-width="2.6"/>
<text x="1849" y="1006.9" font-size="26.8" text-anchor="middle">10<tspan font-size="18" dy="-12.2">2</tspan></text>
<line x1="1651.5" y1="786" x2="1680.5" y2="786" stroke="#2e3192" stroke-width="2.4" stroke-linecap="round"/>
<circle cx="1665.2" cy="786" r="6.2" fill="#2e3192"/>
<line x1="1651.5" y1="823.6" x2="1680.5" y2="823.6" stroke="#56b995" stroke-width="2.4" stroke-linecap="round"/>
<circle cx="1665.2" cy="823.6" r="6.2" fill="#56b995"/>
<line x1="1651.5" y1="857.4" x2="1680.5" y2="857.4" stroke="#c21553" stroke-width="2.4" stroke-linecap="round"/>
<circle cx="1665.2" cy="857.4" r="6.2" fill="#c21553"/>
<text x="1688.7" y="794.4" font-size="23.8">Control</text>
<text x="1688.7" y="832" font-size="23.8">[BMIM]OTF–3</text>
<text x="1688.7" y="865.8" font-size="23.8">[BMIM]OTF–3</text>
<text x="1688.7" y="897.3" font-size="23.8">(w/LiBr)</text>
<text x="1426.3" y="624" font-size="23.8">CE<tspan font-size="16" dy="4.5">max</tspan><tspan dy="-4.5">=79.42</tspan></text>
<text x="1623.3" y="1049.5" font-size="28" text-anchor="middle">Current density (mA/cm<tspan font-size="18" dy="-12">2</tspan><tspan dy="12">)</tspan></text>
<text x="1316.5" y="779.5" font-size="28" text-anchor="middle" transform="rotate(-90 1316.5 779.5)">Current efficiency (cd/A)</text>
</g>
<g id="pg">
<defs><clipPath id="gclip"><rect x="115.2" y="1128.3" width="445.2" height="366.9"/></clipPath></defs>
<rect x="136.7" y="1435.8" width="8.5" height="57.4" fill="#2e3192"/>
<rect x="146.2" y="1378.7" width="8.2" height="114.5" fill="#2e3192"/>
<rect x="155.5" y="1322.4" width="8.5" height="170.8" fill="#2e3192"/>
<rect x="165" y="1151.5" width="8.6" height="341.7" fill="#2e3192"/>
<rect x="174.6" y="1265.3" width="8.5" height="227.9" fill="#2e3192"/>
<rect x="184.5" y="1436.1" width="8.6" height="57.1" fill="#2e3192"/>
<rect x="274.4" y="1431" width="10.2" height="62.2" fill="#58b996"/>
<rect x="287" y="1410.2" width="10.3" height="83" fill="#58b996"/>
<rect x="300" y="1368.5" width="11" height="124.7" fill="#58b996"/>
<rect x="313" y="1265.3" width="10.9" height="227.9" fill="#58b996"/>
<rect x="326.3" y="1285.4" width="10.3" height="207.8" fill="#58b996"/>
<rect x="339.3" y="1368.5" width="10.2" height="124.7" fill="#58b996"/>
<rect x="351.9" y="1431" width="11.3" height="62.2" fill="#58b996"/>
<rect x="417.6" y="1413.9" width="17" height="79.3" fill="#a9466b" stroke="#6b3a4c" stroke-width="0.8" stroke-dasharray="1.2 1"/>
<rect x="436.3" y="1413.9" width="17.1" height="79.3" fill="#a9466b" stroke="#6b3a4c" stroke-width="0.8" stroke-dasharray="1.2 1"/>
<rect x="454.5" y="1336" width="17.7" height="157.2" fill="#a9466b" stroke="#6b3a4c" stroke-width="0.8" stroke-dasharray="1.2 1"/>
<rect x="473.2" y="1179.5" width="17.8" height="313.7" fill="#a9466b" stroke="#6b3a4c" stroke-width="0.8" stroke-dasharray="1.2 1"/>
<rect x="492" y="1310.4" width="17.8" height="182.8" fill="#a9466b" stroke="#6b3a4c" stroke-width="0.8" stroke-dasharray="1.2 1"/>
<rect x="511.5" y="1413.9" width="16.4" height="79.3" fill="#a9466b" stroke="#6b3a4c" stroke-width="0.8" stroke-dasharray="1.2 1"/>
<rect x="529.6" y="1466.2" width="17.1" height="27" fill="#a9466b" stroke="#6b3a4c" stroke-width="0.8" stroke-dasharray="1.2 1"/>
<rect x="115.2" y="1128.3" width="445.2" height="364.9" fill="none" stroke="#000" stroke-width="3"/>
<g clip-path="url(#gclip)"><polyline points="114.9,1492.14 116.21,1492.11 117.52,1492.06 118.83,1492 120.14,1491.9 121.45,1491.76 122.76,1491.56 124.07,1491.28 125.38,1490.9 126.69,1490.37 128,1489.67 129.31,1488.73 130.62,1487.49 131.93,1485.88 133.24,1483.81 134.55,1481.18 135.86,1477.89 137.17,1473.81 138.48,1468.83 139.79,1462.82 141.1,1455.66 142.41,1447.24 143.72,1437.48 145.03,1426.33 146.34,1413.75 147.65,1399.79 148.96,1384.51 150.27,1368.06 151.58,1350.65 152.89,1332.53 154.2,1314.03 155.51,1295.54 156.82,1277.48 158.13,1260.28 159.44,1244.41 160.75,1230.31 162.06,1218.4 163.37,1209.03 164.68,1202.51 165.99,1199.03 167.3,1198.71 168.61,1201.56 169.92,1207.49 171.23,1216.31 172.54,1227.74 173.85,1241.44 175.16,1256.99 176.47,1273.95 177.78,1291.88 179.09,1310.32 180.4,1328.85 181.71,1347.07 183.02,1364.65 184.33,1381.31 185.64,1396.84 186.95,1411.07 188.26,1423.93 189.57,1435.37 190.88,1445.4 192.19,1454.08 193.5,1461.48 194.81,1467.71 196.12,1472.89 197.43,1477.14 198.74,1480.58 200.05,1483.33 201.36,1485.5 202.67,1487.2 203.98,1488.51 205.29,1489.5 206.6,1490.25 207.91,1490.8 209.22,1491.21 210.53,1491.51 211.84,1491.72 213.15,1491.87 214.46,1491.98 215.77,1492.05 217.08,1492.1 218.39,1492.14 219.7,1492.16 221.01,1492.17 222.32,1492.18 223.63,1492.19 224.94,1492.19 226.25,1492.2 227.56,1492.2 228.87,1492.2 230.18,1492.2 231.49,1492.2 232.8,1492.2 234.11,1492.2 235.42,1492.2 236.73,1492.2 238.04,1492.2 239.35,1492.2 240.66,1492.2 241.97,1492.2 243.28,1492.2 244.59,1492.2 245.9,1492.2 247.21,1492.2 248.52,1492.2 249.83,1492.2 251.14,1492.2 252.45,1492.2 253.76,1492.2 255.07,1492.2 256.38,1492.2 257.69,1492.2 259,1492.2 260.31,1492.2 261.62,1492.2 262.93,1492.2 264.24,1492.2 265.55,1492.2 266.86,1492.2 268.17,1492.2 269.48,1492.2 270.79,1492.2 272.1,1492.2" fill="none" stroke="#34379a" stroke-width="2.5" stroke-linejoin="round"/></g>
<g clip-path="url(#gclip)"><polyline points="245.9,1491.38 247.21,1491.19 248.52,1490.98 249.83,1490.72 251.14,1490.41 252.45,1490.05 253.76,1489.62 255.07,1489.12 256.38,1488.53 257.69,1487.85 259,1487.07 260.31,1486.16 261.62,1485.11 262.93,1483.91 264.24,1482.55 265.55,1481 266.86,1479.25 268.17,1477.28 269.48,1475.07 270.79,1472.61 272.1,1469.87 273.41,1466.83 274.72,1463.49 276.03,1459.83 277.34,1455.83 278.65,1451.48 279.96,1446.77 281.27,1441.71 282.58,1436.27 283.89,1430.48 285.2,1424.32 286.51,1417.83 287.82,1411 289.13,1403.86 290.44,1396.44 291.75,1388.76 293.06,1380.87 294.37,1372.81 295.68,1364.62 296.99,1356.36 298.3,1348.08 299.61,1339.84 300.92,1331.71 302.23,1323.75 303.54,1316.03 304.85,1308.61 306.16,1301.57 307.47,1294.96 308.78,1288.86 310.09,1283.32 311.4,1278.39 312.71,1274.13 314.02,1270.59 315.33,1267.79 316.64,1265.77 317.95,1264.55 319.26,1264.14 320.57,1264.55 321.88,1265.77 323.19,1267.79 324.5,1270.59 325.81,1274.13 327.12,1278.39 328.43,1283.32 329.74,1288.86 331.05,1294.96 332.36,1301.57 333.67,1308.61 334.98,1316.03 336.29,1323.75 337.6,1331.71 338.91,1339.84 340.22,1348.08 341.53,1356.36 342.84,1364.62 344.15,1372.81 345.46,1380.87 346.77,1388.76 348.08,1396.44 349.39,1403.86 350.7,1411 352.01,1417.83 353.32,1424.32 354.63,1430.48 355.94,1436.27 357.25,1441.71 358.56,1446.77 359.87,1451.48 361.18,1455.83 362.49,1459.83 363.8,1463.49 365.11,1466.83 366.42,1469.87 367.73,1472.61 369.04,1475.07 370.35,1477.28 371.66,1479.25 372.97,1481 374.28,1482.55 375.59,1483.91 376.9,1485.11 378.21,1486.16 379.52,1487.07 380.83,1487.85 382.14,1488.53 383.45,1489.12 384.76,1489.62 386.07,1490.05 387.38,1490.41 388.69,1490.72 390,1490.98 391.31,1491.19 392.62,1491.38 393.93,1491.53 395.24,1491.65 396.55,1491.76 397.86,1491.84 399.17,1491.91 400.48,1491.97 401.79,1492.01 403.1,1492.05 404.41,1492.08 405.72,1492.11 407.03,1492.13 408.34,1492.14 409.65,1492.16 410.96,1492.17 412.27,1492.17 413.58,1492.18 414.89,1492.18 416.2,1492.19 417.51,1492.19 418.82,1492.19 420.13,1492.19 421.44,1492.2 422.75,1492.2 424.06,1492.2 425.37,1492.2 426.68,1492.2 427.99,1492.2 429.3,1492.2" fill="none" stroke="#5fc19c" stroke-width="2.5" stroke-linejoin="round"/></g>
<g clip-path="url(#gclip)"><polyline points="114.9,1492.2 116.21,1492.2 117.52,1492.2 118.83,1492.2 120.14,1492.2 121.45,1492.2 122.76,1492.2 124.07,1492.2 125.38,1492.2 126.69,1492.2 128,1492.2 129.31,1492.2 130.62,1492.2 131.93,1492.2 133.24,1492.2 134.55,1492.2 135.86,1492.2 137.17,1492.2 138.48,1492.2 139.79,1492.2 141.1,1492.2 142.41,1492.2 143.72,1492.2 145.03,1492.2 146.34,1492.2 147.65,1492.2 148.96,1492.2 150.27,1492.2 151.58,1492.2 152.89,1492.2 154.2,1492.2 155.51,1492.2 156.82,1492.2 158.13,1492.2 159.44,1492.2 160.75,1492.2 162.06,1492.2 163.37,1492.2 164.68,1492.2 165.99,1492.2 167.3,1492.2 168.61,1492.2 169.92,1492.2 171.23,1492.2 172.54,1492.2 173.85,1492.2 175.16,1492.2 176.47,1492.2 177.78,1492.2 179.09,1492.2 180.4,1492.2 181.71,1492.2 183.02,1492.2 184.33,1492.2 185.64,1492.2 186.95,1492.2 188.26,1492.2 189.57,1492.2 190.88,1492.2 192.19,1492.2 193.5,1492.2 194.81,1492.2 196.12,1492.2 197.43,1492.2 198.74,1492.2 200.05,1492.2 201.36,1492.2 202.67,1492.2 203.98,1492.2 205.29,1492.2 206.6,1492.2 207.91,1492.2 209.22,1492.2 210.53,1492.2 211.84,1492.2 213.15,1492.2 214.46,1492.2 215.77,1492.2 217.08,1492.2 218.39,1492.2 219.7,1492.2 221.01,1492.2 222.32,1492.2 223.63,1492.2 224.94,1492.2 226.25,1492.2 227.56,1492.2 228.87,1492.2 230.18,1492.2 231.49,1492.2 232.8,1492.2 234.11,1492.2 235.42,1492.2 236.73,1492.2 238.04,1492.2 239.35,1492.2 240.66,1492.2 241.97,1492.2 243.28,1492.2 244.59,1492.2 245.9,1492.2 247.21,1492.2 248.52,1492.2 249.83,1492.2 251.14,1492.2 252.45,1492.2 253.76,1492.2 255.07,1492.2 256.38,1492.2 257.69,1492.2 259,1492.2 260.31,1492.2 261.62,1492.2 262.93,1492.2 264.24,1492.2 265.55,1492.2 266.86,1492.2 268.17,1492.2 269.48,1492.2 270.79,1492.2 272.1,1492.2 273.41,1492.2 274.72,1492.2 276.03,1492.2 277.34,1492.2 278.65,1492.2 279.96,1492.2 281.27,1492.2 282.58,1492.2 283.89,1492.2 285.2,1492.2 286.51,1492.2 287.82,1492.2 289.13,1492.2 290.44,1492.2 291.75,1492.2 293.06,1492.2 294.37,1492.2 295.68,1492.2 296.99,1492.2 298.3,1492.2 299.61,1492.2 300.92,1492.2 302.23,1492.2 303.54,1492.2 304.85,1492.2 306.16,1492.2 307.47,1492.2 308.78,1492.2 310.09,1492.2 311.4,1492.2 312.71,1492.2 314.02,1492.2 315.33,1492.2 316.64,1492.2 317.95,1492.2 319.26,1492.2 320.57,1492.2 321.88,1492.2 323.19,1492.2 324.5,1492.2 325.81,1492.2 327.12,1492.2 328.43,1492.2 329.74,1492.2 331.05,1492.2 332.36,1492.2 333.67,1492.2 334.98,1492.2 336.29,1492.2 337.6,1492.2 338.91,1492.2 340.22,1492.2 341.53,1492.2 342.84,1492.2 344.15,1492.2 345.46,1492.2 346.77,1492.2 348.08,1492.2 349.39,1492.2 350.7,1492.2 352.01,1492.19 353.32,1492.19 354.63,1492.19 355.94,1492.19 357.25,1492.19 358.56,1492.18 359.87,1492.18 361.18,1492.18 362.49,1492.17 363.8,1492.16 365.11,1492.16 366.42,1492.15 367.73,1492.13 369.04,1492.12 370.35,1492.1 371.66,1492.08 372.97,1492.05 374.28,1492.02 375.59,1491.99 376.9,1491.95 378.21,1491.9 379.52,1491.84 380.83,1491.77 382.14,1491.69 383.45,1491.59 384.76,1491.48 386.07,1491.35 387.38,1491.2 388.69,1491.02 390,1490.82 391.31,1490.58 392.62,1490.32 393.93,1490.01 395.24,1489.65 396.55,1489.25 397.86,1488.79 399.17,1488.26 400.48,1487.67 401.79,1487 403.1,1486.25 404.41,1485.4 405.72,1484.45 407.03,1483.39 408.34,1482.2 409.65,1480.89 410.96,1479.43 412.27,1477.81 413.58,1476.03 414.89,1474.08 416.2,1471.93 417.51,1469.58 418.82,1467.02 420.13,1464.24 421.44,1461.22 422.75,1457.96 424.06,1454.44 425.37,1450.66 426.68,1446.6 427.99,1442.27 429.3,1437.66 430.61,1432.76 431.92,1427.58 433.23,1422.1 434.54,1416.34 435.85,1410.31 437.16,1404 438.47,1397.42 439.78,1390.6 441.09,1383.54 442.4,1376.27 443.71,1368.8 445.02,1361.16 446.33,1353.37 447.64,1345.46 448.95,1337.47 450.26,1329.43 451.57,1321.37 452.88,1313.34 454.19,1305.37 455.5,1297.51 456.81,1289.79 458.12,1282.26 459.43,1274.96 460.74,1267.94 462.05,1261.23 463.36,1254.89 464.67,1248.94 465.98,1243.44 467.29,1238.4 468.6,1233.88 469.91,1229.89 471.22,1226.47 472.53,1223.64 473.84,1221.41 475.15,1219.81 476.46,1218.85 477.77,1218.53 479.08,1218.85 480.39,1219.81 481.7,1221.41 483.01,1223.64 484.32,1226.47 485.63,1229.89 486.94,1233.88 488.25,1238.4 489.56,1243.44 490.87,1248.94 492.18,1254.89 493.49,1261.23 494.8,1267.94 496.11,1274.96 497.42,1282.26 498.73,1289.79 500.04,1297.51 501.35,1305.37 502.66,1313.34 503.97,1321.37 505.28,1329.43 506.59,1337.47 507.9,1345.46 509.21,1353.37 510.52,1361.16 511.83,1368.8 513.14,1376.27 514.45,1383.54 515.76,1390.6 517.07,1397.42 518.38,1404 519.69,1410.31 521,1416.34 522.31,1422.1 523.62,1427.58 524.93,1432.76 526.24,1437.66 527.55,1442.27 528.86,1446.6 530.17,1450.66 531.48,1454.44 532.79,1457.96 534.1,1461.22 535.41,1464.24 536.72,1467.02 538.03,1469.58 539.34,1471.93 540.65,1474.08 541.96,1476.03 543.27,1477.81 544.58,1479.43 545.89,1480.89 547.2,1482.2 548.51,1483.39 549.82,1484.45 551.13,1485.4 552.44,1486.25 553.75,1487 555.06,1487.67 556.37,1488.26 557.68,1488.79 558.99,1489.25 560.3,1489.65" fill="none" stroke="#c8185a" stroke-width="2.5" stroke-linejoin="round"/></g>
<line x1="107.7" y1="1401.98" x2="115.2" y2="1401.98" stroke="#000" stroke-width="2.6"/>
<text x="99.5" y="1411.28" font-size="26.8" text-anchor="end">0.1</text>
<line x1="107.7" y1="1310.75" x2="115.2" y2="1310.75" stroke="#000" stroke-width="2.6"/>
<text x="99.5" y="1320.05" font-size="26.8" text-anchor="end">0.2</text>
<line x1="107.7" y1="1219.53" x2="115.2" y2="1219.53" stroke="#000" stroke-width="2.6"/>
<text x="99.5" y="1228.83" font-size="26.8" text-anchor="end">0.3</text>
<line x1="107.7" y1="1128.3" x2="115.2" y2="1128.3" stroke="#000" stroke-width="2.6"/>
<text x="99.5" y="1137.6" font-size="26.8" text-anchor="end">0.4</text>
<line x1="141.1" y1="1493.2" x2="141.1" y2="1500.7" stroke="#000" stroke-width="2.6"/>
<text x="141.1" y="1529" font-size="26.8" text-anchor="middle">6</text>
<line x1="219.7" y1="1493.2" x2="219.7" y2="1500.7" stroke="#000" stroke-width="2.6"/>
<text x="219.7" y="1529" font-size="26.8" text-anchor="middle">9</text>
<line x1="298.3" y1="1493.2" x2="298.3" y2="1500.7" stroke="#000" stroke-width="2.6"/>
<text x="298.3" y="1529" font-size="26.8" text-anchor="middle">12</text>
<line x1="376.9" y1="1493.2" x2="376.9" y2="1500.7" stroke="#000" stroke-width="2.6"/>
<text x="376.9" y="1529" font-size="26.8" text-anchor="middle">15</text>
<line x1="455.5" y1="1493.2" x2="455.5" y2="1500.7" stroke="#000" stroke-width="2.6"/>
<text x="455.5" y="1529" font-size="26.8" text-anchor="middle">18</text>
<line x1="534.1" y1="1493.2" x2="534.1" y2="1500.7" stroke="#000" stroke-width="2.6"/>
<text x="534.1" y="1529" font-size="26.8" text-anchor="middle">21</text>
<rect x="184.5" y="1142" width="31.8" height="18" fill="#2e3192"/>
<text x="228.3" y="1158.3" font-size="23.8">Control</text>
<rect x="324.6" y="1139.5" width="32.5" height="17.8" fill="#a9466b" stroke="#666" stroke-width="0.6"/>
<text x="370.7" y="1155.6" font-size="23.8">[BMIM]OTF–3</text>
<rect x="184.5" y="1185.7" width="31.8" height="17.1" fill="#4de6a8"/>
<text x="228.3" y="1201" font-size="23.8">[BMIM]OTF–3</text>
<text x="220.4" y="1237.6" font-size="23.8">(w/LiBr)</text>
<text x="338.3" y="1571.8" font-size="28" text-anchor="middle">EQE (%)</text>
<text x="42.3" y="1312.1" font-size="28" text-anchor="middle" transform="rotate(-90 42.3 1312.1)">Ratio</text>
</g>
<g id="ph">
<line x1="785.6" y1="1324" x2="1242.4" y2="1324" stroke="#8c8c8c" stroke-width="3" stroke-dasharray="10.5 6.3"/>
<polyline points="788.58,1148.92 789.59,1151.06 790.71,1151.53 791.09,1155.66 792.2,1155.94 793.72,1158.57 794.48,1160.56 795.22,1161.62 796.08,1165.64 796.86,1167.3 797.85,1167.41 798.8,1170.9 799.28,1171.34 800.63,1174.58 801.37,1177.73 802.24,1179.86 802.84,1181.53 803.75,1183.92 805,1183.58 805.25,1185.93 806.83,1188.55 807.43,1190.18 808.21,1192.43 808.95,1195 810.03,1197.9 810.99,1199.98 812.02,1202.16 812.74,1201.86 813.75,1206.05 814.63,1206.88 815.31,1207.82 816.26,1210.78 816.64,1211.3 817.96,1215.84 818.17,1217.25 819.28,1217.38 820.03,1221.05 821.38,1221.03 822.04,1223.05 822.99,1225.86 824,1229.69 824.55,1231.75 825.26,1231.18 826.37,1233.06 826.91,1236.12 828.12,1237.43 828.52,1241.43 829.72,1243.64 831.19,1243.97 831.8,1246.32 832.93,1248.49 833.84,1250.51 835.14,1252.15 835.69,1254.71 836.5,1255.49 838.1,1258.06 838.72,1258.58 839.58,1262.11 840.23,1264.16 841.72,1264.55 842.7,1267.63 843.72,1269.25 844.72,1272.28 845.12,1272.33 846.65,1276.8 847.12,1277.33 848.24,1278.91 848.89,1280.84 849.72,1283.59 850.5,1284.93 851.73,1285.91 852.39,1289.85 853.01,1290.37 854.26,1292.37 854.58,1294.87 855.86,1295.9 856.38,1298.5 857.66,1300.75 858.52,1301.95 858.93,1305.25 860.23,1306.65 860.52,1307.68 861.62,1309.83 863.11,1313.31 863.83,1313.41 865.61,1316.1 866.86,1316.93 867.54,1318.45 869.1,1320.7" fill="none" stroke="#2e3192" stroke-width="7.2" stroke-linejoin="round" stroke-linecap="round"/>
<polyline points="787.6,1155.78 789.32,1157.9 790.85,1159.41 791.83,1159.69 794.17,1161.77 795.71,1161.83 796.92,1163.77 798.56,1166.24 799.69,1166.81 801.51,1170.26 803.51,1169.63 805.12,1171.06 806.56,1172.52 807.64,1176.09 809.4,1175.75 811.64,1179.08 812.65,1180.82 814.45,1181.52 815.76,1183.74 817.76,1185.31 819.37,1184.87 820.35,1185.92 821.61,1187.07 823.18,1190 824.36,1191.64 826.08,1192.04 827.92,1193.95 828.93,1195.38 830.69,1195.62 832.36,1196.95 833.6,1200.68 834.42,1201.95 836.15,1202.79 837.29,1202.73 838.69,1206.88 839.96,1207.93 841.83,1210.05 842.59,1210.02 844,1212.8 844.9,1214.33 846.74,1216.25 847.36,1218.09 848.66,1218 850.35,1221.23 851.38,1222.85 852.8,1222.74 853.87,1223.97 854.92,1225.49 856.69,1229.47 857.5,1228.42 859.45,1231.39 860.22,1232.16 862.05,1234.96 863.61,1234.98 864.95,1237.51 866.61,1237.48 868.96,1237.62 870.54,1241.06 872.13,1241.76 873.37,1241.92 875.08,1244.22 876.88,1244.27 879.14,1246.54 880.8,1246.57 882.07,1248.49 883.73,1248.41 885.34,1249.16 887,1252.67 889.16,1252.81 890.45,1253.15 891.78,1254.11 894.04,1256.93 895.36,1257.85 897.38,1258.74 898.96,1260.08 900.39,1261.07 902.13,1261.6 904.36,1263.31 905.78,1265.16 907.9,1265.27 909.18,1266.31 911.2,1267.8 913.2,1269.34 915.17,1270.42 916.74,1271.13 918.88,1272.78 920.37,1273.96 922.7,1274.31 924.67,1275.85 926.18,1275.44 927.77,1277.09 930.3,1276.87 931.99,1278.34 933.91,1277.59 935.84,1279.53 937.75,1279.83 939.72,1281.57 941.74,1282.17 943.24,1281.35 945.6,1283.47 947.42,1284.32 949.78,1283.27 951.66,1284.53 953.32,1285.02 955.55,1285.91 957.44,1286.08 959.67,1287.62 961.79,1288.79 963.48,1290.25 965.28,1289.44 967.51,1290.03 969.38,1291.79 971.59,1290.14 973.8,1290.89 975.74,1292.15 977.97,1294.11 980.37,1292.82 982.56,1293.67 984.39,1292.5 986.78,1293.9 989.28,1295.26 991.19,1293.76 993.63,1293 994.97,1295.32 997.4,1294.87 999.41,1297.72 1001.2,1297.17 1003.07,1297.52 1004.95,1299.66 1006.19,1303.06 1007.97,1301.33 1010.39,1302.09 1012,1301.69 1014.57,1302.28 1016.08,1302.34 1018.03,1302.84 1020.39,1302.02 1022.77,1303.62 1024.22,1302.89 1026.53,1304.12 1029.05,1302.29 1030.7,1302.13 1033.32,1302.78 1035.01,1303.55 1037.05,1304.17 1039.14,1303.07 1041.17,1303.84 1042.99,1304.2 1044.8,1305 1046.95,1304.79 1049.2,1305.69 1050.61,1305.01 1053.16,1307.33 1055.73,1306.75 1057.19,1307.87 1059.74,1307.76 1062.17,1308.38 1064.18,1309.63 1066.3,1308.63 1068.9,1308.55 1070.52,1310.27 1072.42,1310.22 1075.04,1309.04 1076.79,1309.95 1079.4,1308.11 1081.13,1309.19 1083.24,1308.52 1085.04,1309.17 1087.69,1307.67 1089.29,1309.71 1091.85,1309.22 1093.3,1309.32 1096.29,1310.35 1098.24,1307.94 1100.55,1308.66 1102.57,1310.97 1104.82,1308.93 1106.65,1311.37 1108.72,1310.76 1111.13,1309.75 1113.31,1309.47 1114.89,1310.46 1116.87,1309.61 1119.3,1311.58 1121.57,1309.93 1123.2,1310.48 1125.35,1311.02 1127.65,1310.75 1128.92,1311.7 1131.01,1311.57 1133.31,1312.8 1135.37,1312.44 1137.13,1312.69 1139.13,1313.7 1141.36,1312.42 1143.14,1313.54 1145.57,1313.45 1147.56,1315.23 1149.04,1315.72 1151.06,1314.65 1153.49,1315.35 1155.74,1316.41 1157.28,1317.67 1159.04,1317.85 1161.08,1316.62 1163.84,1318.49 1165.24,1317.29 1167.88,1319.2 1169.76,1318.11 1171.6,1319.09 1173.28,1319.77 1175.6,1320.56 1177.4,1320.7 1179.78,1322.87 1181.76,1323.01 1183.9,1323.92 1185.78,1324.74 1187.8,1325.2" fill="none" stroke="#c21553" stroke-width="7" stroke-linejoin="round" stroke-linecap="round"/>
<rect x="785.6" y="1123.1" width="456.8" height="368.4" fill="none" stroke="#000" stroke-width="3"/>
<line x1="778.1" y1="1407.6" x2="785.6" y2="1407.6" stroke="#000" stroke-width="2.6"/>
<text x="766" y="1416.9" font-size="26.8" text-anchor="end">0.25</text>
<line x1="778.1" y1="1323.7" x2="785.6" y2="1323.7" stroke="#000" stroke-width="2.6"/>
<text x="766" y="1333" font-size="26.8" text-anchor="end">0.50</text>
<line x1="778.1" y1="1239.8" x2="785.6" y2="1239.8" stroke="#000" stroke-width="2.6"/>
<text x="766" y="1249.1" font-size="26.8" text-anchor="end">0.75</text>
<line x1="778.1" y1="1155.9" x2="785.6" y2="1155.9" stroke="#000" stroke-width="2.6"/>
<text x="766" y="1165.2" font-size="26.8" text-anchor="end">1.00</text>
<line x1="785.6" y1="1491.5" x2="785.6" y2="1499" stroke="#000" stroke-width="2.6"/>
<text x="785.6" y="1528.6" font-size="26.8" text-anchor="middle">0</text>
<line x1="876.96" y1="1491.5" x2="876.96" y2="1499" stroke="#000" stroke-width="2.6"/>
<text x="876.96" y="1528.6" font-size="26.8" text-anchor="middle">50</text>
<line x1="968.32" y1="1491.5" x2="968.32" y2="1499" stroke="#000" stroke-width="2.6"/>
<text x="968.32" y="1528.6" font-size="26.8" text-anchor="middle">100</text>
<line x1="1059.68" y1="1491.5" x2="1059.68" y2="1499" stroke="#000" stroke-width="2.6"/>
<text x="1059.68" y="1528.6" font-size="26.8" text-anchor="middle">150</text>
<line x1="1151.04" y1="1491.5" x2="1151.04" y2="1499" stroke="#000" stroke-width="2.6"/>
<text x="1151.04" y="1528.6" font-size="26.8" text-anchor="middle">200</text>
<line x1="1242.4" y1="1491.5" x2="1242.4" y2="1499" stroke="#000" stroke-width="2.6"/>
<text x="1242.4" y="1528.6" font-size="26.8" text-anchor="middle">250</text>
<line x1="1033.5" y1="1143.8" x2="1073" y2="1143.8" stroke="#2e3192" stroke-width="6.5" stroke-linecap="round"/>
<line x1="1033.5" y1="1187.2" x2="1073" y2="1187.2" stroke="#c21553" stroke-width="6.5" stroke-linecap="round"/>
<text x="1086.6" y="1151.5" font-size="23.8">Control</text>
<text x="1086.6" y="1194.2" font-size="23.8">[BMIM]OTF–3</text>
<text x="1083.1" y="1237.4" font-size="23.8">(w/LiBr)</text>
<text x="800.2" y="1351.9" font-size="23.8">L<tspan font-size="14.5" dy="8.3">0</tspan><tspan dy="-8.3">=394.657 cd/m</tspan><tspan font-size="14.5" dy="-13.4">2</tspan></text>
<text x="1041" y="1351.9" font-size="23.8">L<tspan font-size="14.5" dy="8.3">0</tspan><tspan dy="-8.3">=774.195 cd/m</tspan><tspan font-size="14.5" dy="-13.4">2</tspan></text>
<text x="800.2" y="1392.3" font-size="23.8">T<tspan font-size="14.5" dy="8.9">50</tspan><tspan dy="-8.9">=47 min</tspan></text>
<text x="1041" y="1392.3" font-size="23.8">T<tspan font-size="14.5" dy="8.9">50</tspan><tspan dy="-8.9">=220 min</tspan></text>
<text x="800.2" y="1437.1" font-size="23.8">T<tspan font-size="14.5" dy="8.9">50</tspan><tspan dy="-8.9">=8.62 h</tspan></text>
<text x="1041" y="1437.1" font-size="23.8">T<tspan font-size="14.5" dy="8.9">50</tspan><tspan dy="-8.9">=131.87 h</tspan></text>
<text x="800.2" y="1480.8" font-size="23.8">@ L<tspan font-size="14.5" dy="8.3">0</tspan><tspan dy="-8.3">=100 cd/m</tspan><tspan font-size="14.5" dy="-7.8">2</tspan></text>
<text x="1041" y="1480.8" font-size="23.8">@ L<tspan font-size="14.5" dy="8.3">0</tspan><tspan dy="-8.3">=100 cd/m</tspan><tspan font-size="14.5" dy="-7.8">2</tspan></text>
<text x="1015.3" y="1570" font-size="28" text-anchor="middle">Time (min)</text>
<text x="691.3" y="1307.6" font-size="28" text-anchor="middle" transform="rotate(-90 691.3 1307.6)">L/L<tspan font-size="18" dy="6">0</tspan><tspan dy="-6"> (a.u.)</tspan></text>
</g>
<g id="pi">
<defs><linearGradient id="ibg" x1="0" y1="0" x2="1" y2="0">
<stop offset="0" stop-color="#d4939d"/><stop offset="0.12" stop-color="#d1a0a8"/><stop offset="0.25" stop-color="#cbb1b2"/><stop offset="0.35" stop-color="#c7bfba"/><stop offset="0.45" stop-color="#c8c9c2"/><stop offset="0.55" stop-color="#cbd3cc"/><stop offset="0.65" stop-color="#d3ddd7"/><stop offset="0.78" stop-color="#e2eae6"/><stop offset="0.9" stop-color="#eff4f1"/><stop offset="1" stop-color="#fafcfb"/></linearGradient>
<radialGradient id="ball" cx="0.38" cy="0.32" r="0.7">
<stop offset="0" stop-color="#ffffff"/><stop offset="0.14" stop-color="#eef7f7"/><stop offset="0.3" stop-color="#5f9ea6"/><stop offset="0.42" stop-color="#226d79"/><stop offset="1" stop-color="#1d6672"/></radialGradient></defs>
<rect x="1387.8" y="1113.9" width="481.7" height="387" fill="url(#ibg)" stroke="#8a8a8a" stroke-width="1.4"/>
<circle cx="1491.8" cy="1174.8" r="8" fill="url(#ball)"/>
<circle cx="1713.3" cy="1255.3" r="8" fill="url(#ball)"/>
<circle cx="1861.4" cy="1242" r="8" fill="url(#ball)"/>
<circle cx="1426.3" cy="1385.4" r="8" fill="url(#ball)"/>
<circle cx="1617.6" cy="1399.3" r="8" fill="url(#ball)"/>
<circle cx="1520.1" cy="1453.2" r="8" fill="url(#ball)"/>
<circle cx="1729" cy="1453.2" r="8" fill="url(#ball)"/>
<circle cx="1451.9" cy="1492.1" r="8" fill="url(#ball)"/>
<polygon points="1714.7,1128.1 1717.99,1137.07 1727.54,1137.43 1720.03,1143.33 1722.64,1152.52 1714.7,1147.2 1706.76,1152.52 1709.37,1143.33 1701.86,1137.43 1711.41,1137.07" fill="#c2185b"/>
<text x="0" y="0" font-size="23.9" transform="translate(1728 1174.6) scale(0.95 1)">This work</text>
<text x="0" y="0" font-size="23.9" transform="translate(1497.8 1204.8) scale(0.95 1)">Ref.61</text>
<text x="0" y="0" font-size="23.9" transform="translate(1645.8 1287.9) scale(0.95 1)">Ref.48</text>
<text x="0" y="0" font-size="23.9" transform="translate(1807.8 1273.9) scale(0.95 1)">Ref.5</text>
<text x="0" y="0" font-size="23.9" transform="translate(1393 1354.4) scale(0.95 1)">Ref.58</text>
<text x="0" y="0" font-size="23.9" transform="translate(1624.9 1431.6) scale(0.95 1)">Ref.62</text>
<text x="0" y="0" font-size="23.9" transform="translate(1415.3 1457.5) scale(0.95 1)">Ref.60</text>
<text x="0" y="0" font-size="23.9" transform="translate(1524.7 1486.5) scale(0.95 1)">Ref.8</text>
<text x="0" y="0" font-size="23.9" transform="translate(1728 1488.2) scale(0.95 1)">Ref.59</text>
<path d="M1386.3,1111.4 V1502.4 H1875.5" fill="none" stroke="#000" stroke-width="2.8"/>
<line x1="1384.9" y1="1111.4" x2="1875.5" y2="1111.4" stroke="#000" stroke-width="2.8"/>
<line x1="1871.5" y1="1111.4" x2="1871.5" y2="1502.4" stroke="#000" stroke-width="2.8"/>
<line x1="1378.8" y1="1502.4" x2="1386.3" y2="1502.4" stroke="#000" stroke-width="2.6"/>
<text x="1366.4" y="1511.4" font-size="26.8" text-anchor="end">0</text>
<line x1="1381.8" y1="1453.62" x2="1386.3" y2="1453.62" stroke="#000" stroke-width="2.2"/>
<line x1="1378.8" y1="1404.85" x2="1386.3" y2="1404.85" stroke="#000" stroke-width="2.6"/>
<text x="1366.4" y="1413.85" font-size="26.8" text-anchor="end">20k</text>
<line x1="1381.8" y1="1356.08" x2="1386.3" y2="1356.08" stroke="#000" stroke-width="2.2"/>
<line x1="1378.8" y1="1307.3" x2="1386.3" y2="1307.3" stroke="#000" stroke-width="2.6"/>
<text x="1366.4" y="1316.3" font-size="26.8" text-anchor="end">40k</text>
<line x1="1381.8" y1="1258.53" x2="1386.3" y2="1258.53" stroke="#000" stroke-width="2.2"/>
<line x1="1378.8" y1="1209.75" x2="1386.3" y2="1209.75" stroke="#000" stroke-width="2.6"/>
<text x="1366.4" y="1218.75" font-size="26.8" text-anchor="end">60k</text>
<line x1="1381.8" y1="1160.98" x2="1386.3" y2="1160.98" stroke="#000" stroke-width="2.2"/>
<line x1="1378.8" y1="1112.2" x2="1386.3" y2="1112.2" stroke="#000" stroke-width="2.6"/>
<text x="1366.4" y="1121.2" font-size="26.8" text-anchor="end">80k</text>
<line x1="1386.3" y1="1502.4" x2="1386.3" y2="1509.9" stroke="#000" stroke-width="2.6"/>
<text x="1386.3" y="1548.6" font-size="26.8" text-anchor="middle">10<tspan font-size="19.5" dy="-11.6">–1</tspan></text>
<line x1="1418.01" y1="1502.4" x2="1418.01" y2="1506.9" stroke="#000" stroke-width="2"/>
<line x1="1436.56" y1="1502.4" x2="1436.56" y2="1506.9" stroke="#000" stroke-width="2"/>
<line x1="1449.73" y1="1502.4" x2="1449.73" y2="1506.9" stroke="#000" stroke-width="2"/>
<line x1="1459.94" y1="1502.4" x2="1459.94" y2="1506.9" stroke="#000" stroke-width="2"/>
<line x1="1468.28" y1="1502.4" x2="1468.28" y2="1506.9" stroke="#000" stroke-width="2"/>
<line x1="1475.33" y1="1502.4" x2="1475.33" y2="1506.9" stroke="#000" stroke-width="2"/>
<line x1="1481.44" y1="1502.4" x2="1481.44" y2="1506.9" stroke="#000" stroke-width="2"/>
<line x1="1486.83" y1="1502.4" x2="1486.83" y2="1506.9" stroke="#000" stroke-width="2"/>
<line x1="1491.65" y1="1502.4" x2="1491.65" y2="1509.9" stroke="#000" stroke-width="2.6"/>
<text x="1491.65" y="1548.6" font-size="26.8" text-anchor="middle">10<tspan font-size="19.5" dy="-11.6">0</tspan></text>
<line x1="1523.36" y1="1502.4" x2="1523.36" y2="1506.9" stroke="#000" stroke-width="2"/>
<line x1="1541.91" y1="1502.4" x2="1541.91" y2="1506.9" stroke="#000" stroke-width="2"/>
<line x1="1555.08" y1="1502.4" x2="1555.08" y2="1506.9" stroke="#000" stroke-width="2"/>
<line x1="1565.29" y1="1502.4" x2="1565.29" y2="1506.9" stroke="#000" stroke-width="2"/>
<line x1="1573.63" y1="1502.4" x2="1573.63" y2="1506.9" stroke="#000" stroke-width="2"/>
<line x1="1580.68" y1="1502.4" x2="1580.68" y2="1506.9" stroke="#000" stroke-width="2"/>
<line x1="1586.79" y1="1502.4" x2="1586.79" y2="1506.9" stroke="#000" stroke-width="2"/>
<line x1="1592.18" y1="1502.4" x2="1592.18" y2="1506.9" stroke="#000" stroke-width="2"/>
<line x1="1597" y1="1502.4" x2="1597" y2="1509.9" stroke="#000" stroke-width="2.6"/>
<text x="1597" y="1548.6" font-size="26.8" text-anchor="middle">10<tspan font-size="19.5" dy="-11.6">1</tspan></text>
<line x1="1628.71" y1="1502.4" x2="1628.71" y2="1506.9" stroke="#000" stroke-width="2"/>
<line x1="1647.26" y1="1502.4" x2="1647.26" y2="1506.9" stroke="#000" stroke-width="2"/>
<line x1="1660.43" y1="1502.4" x2="1660.43" y2="1506.9" stroke="#000" stroke-width="2"/>
<line x1="1670.64" y1="1502.4" x2="1670.64" y2="1506.9" stroke="#000" stroke-width="2"/>
<line x1="1678.98" y1="1502.4" x2="1678.98" y2="1506.9" stroke="#000" stroke-width="2"/>
<line x1="1686.03" y1="1502.4" x2="1686.03" y2="1506.9" stroke="#000" stroke-width="2"/>
<line x1="1692.14" y1="1502.4" x2="1692.14" y2="1506.9" stroke="#000" stroke-width="2"/>
<line x1="1697.53" y1="1502.4" x2="1697.53" y2="1506.9" stroke="#000" stroke-width="2"/>
<line x1="1702.35" y1="1502.4" x2="1702.35" y2="1509.9" stroke="#000" stroke-width="2.6"/>
<text x="1702.35" y="1548.6" font-size="26.8" text-anchor="middle">10<tspan font-size="19.5" dy="-11.6">2</tspan></text>
<line x1="1734.06" y1="1502.4" x2="1734.06" y2="1506.9" stroke="#000" stroke-width="2"/>
<line x1="1752.61" y1="1502.4" x2="1752.61" y2="1506.9" stroke="#000" stroke-width="2"/>
<line x1="1765.78" y1="1502.4" x2="1765.78" y2="1506.9" stroke="#000" stroke-width="2"/>
<line x1="1775.99" y1="1502.4" x2="1775.99" y2="1506.9" stroke="#000" stroke-width="2"/>
<line x1="1784.33" y1="1502.4" x2="1784.33" y2="1506.9" stroke="#000" stroke-width="2"/>
<line x1="1791.38" y1="1502.4" x2="1791.38" y2="1506.9" stroke="#000" stroke-width="2"/>
<line x1="1797.49" y1="1502.4" x2="1797.49" y2="1506.9" stroke="#000" stroke-width="2"/>
<line x1="1802.88" y1="1502.4" x2="1802.88" y2="1506.9" stroke="#000" stroke-width="2"/>
<line x1="1807.7" y1="1502.4" x2="1807.7" y2="1509.9" stroke="#000" stroke-width="2.6"/>
<text x="1807.7" y="1548.6" font-size="26.8" text-anchor="middle">10<tspan font-size="19.5" dy="-11.6">3</tspan></text>
<line x1="1839.41" y1="1502.4" x2="1839.41" y2="1506.9" stroke="#000" stroke-width="2"/>
<line x1="1857.96" y1="1502.4" x2="1857.96" y2="1506.9" stroke="#000" stroke-width="2"/>
<text x="1629.2" y="1589" font-size="28" text-anchor="middle">T<tspan font-size="19" dy="7">50</tspan><tspan dy="-7"> lifetime (h)</tspan></text>
<text x="1296" y="1307.9" font-size="28" text-anchor="middle" transform="rotate(-90 1296 1307.9)">Luminance (cd/m<tspan font-size="18" dy="-12">2</tspan><tspan dy="12">)</tspan></text>
</g>
<text x="-1" y="31" font-size="42.5" font-weight="bold">a</text>
<text x="646.5" y="30.4" font-size="42.5" font-weight="bold">b</text>
<text x="1256.5" y="30.8" font-size="42.5" font-weight="bold">c</text>
<text x="-1.5" y="608.8" font-size="42.5" font-weight="bold">d</text>
<text x="667.5" y="609" font-size="42.5" font-weight="bold">e</text>
<text x="1264.5" y="608.6" font-size="42.5" font-weight="bold">f</text>
<text x="-1.5" y="1131.8" font-size="42.5" font-weight="bold">g</text>
<text x="668.5" y="1129.7" font-size="42.5" font-weight="bold">h</text>
<text x="1257" y="1130" font-size="42.5" font-weight="bold">i</text>
</svg>
</body></html>
